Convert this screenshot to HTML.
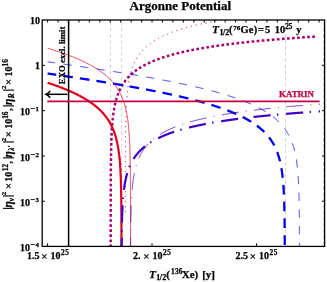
<!DOCTYPE html>
<html><head><meta charset="utf-8"><title>Argonne Potential</title>
<style>html,body{margin:0;padding:0;background:#fff}svg{display:block}</style></head>
<body>
<svg width="327" height="282" viewBox="0 0 327 282" style="will-change:transform">
<rect width="327" height="282" fill="#fff"/>
<defs><clipPath id="c"><rect x="42.2" y="20.0" width="282.4" height="226.4"/></clipPath></defs>
<g clip-path="url(#c)" fill="none" stroke-linejoin="round">
<line x1="110.5" y1="20.0" x2="110.5" y2="246.4" stroke="#b0b0b0" stroke-width="0.6" stroke-dasharray="3.2 2.9" stroke-dashoffset="-2"/>
<line x1="121.6" y1="20.0" x2="121.6" y2="246.4" stroke="#b0b0b0" stroke-width="0.6" stroke-dasharray="3.2 2.9" stroke-dashoffset="-2"/>
<line x1="285.5" y1="20.0" x2="285.5" y2="246.4" stroke="#b0b0b0" stroke-width="0.6" stroke-dasharray="3.2 2.9" stroke-dashoffset="-2"/>
<line x1="323.5" y1="20.0" x2="323.5" y2="246.4" stroke="#b0b0b0" stroke-width="0.6" stroke-dasharray="3.2 2.9" stroke-dashoffset="-2"/>
<defs><clipPath id="c2"><rect x="0" y="0" width="327" height="212.5"/></clipPath></defs>
<path d="M110.70 249.20 110.70 248.80 110.70 248.40 110.70 248.00 110.70 247.60 110.70 247.20 110.70 246.80 110.70 246.40 110.70 246.00 110.70 245.60 110.70 245.20 110.70 244.80 110.70 244.40 110.70 244.00 110.70 243.60 110.70 243.21 110.70 242.81 110.70 242.41 110.70 242.01 110.70 241.61 110.70 241.21 110.70 240.81 110.70 240.41 110.70 240.01 110.70 239.61 110.70 239.21 110.70 238.81 110.70 238.41 110.71 238.01 110.71 237.61 110.71 237.21 110.71 236.81 110.71 236.41 110.71 236.01 110.71 235.61 110.71 235.21 110.71 234.81 110.71 234.41 110.71 234.01 110.71 233.61 110.71 233.21 110.71 232.81 110.71 232.41 110.71 232.01 110.71 231.61 110.71 231.22 110.71 230.82 110.71 230.42 110.71 230.02 110.71 229.62 110.71 229.22 110.71 228.82 110.71 228.42 110.71 228.02 110.71 227.62 110.71 227.22 110.71 226.82 110.71 226.42 110.71 226.02 110.71 225.62 110.71 225.22 110.71 224.82 110.71 224.42 110.71 224.02 110.71 223.62 110.71 223.22 110.71 222.82 110.71 222.42 110.71 222.02 110.71 221.62 110.71 221.22 110.71 220.82 110.71 220.42 110.71 220.02 110.71 219.63 110.71 219.23 110.71 218.83 110.71 218.43 110.71 218.03 110.71 217.63 110.71 217.23 110.71 216.83 110.71 216.43 110.71 216.03 110.72 215.63 110.72 215.23 110.72 214.83 110.72 214.43 110.72 214.03 110.72 213.63 110.72 213.23 110.72 212.83 110.72 212.43 110.72 212.03 110.72 211.63 110.72 211.23 110.72 210.83 110.72 210.43 110.72 210.03 110.72 209.63 110.72 209.23 110.72 208.83 110.72 208.43 110.72 208.03 110.72 207.64 110.72 207.24 110.72 206.84 110.72 206.44 110.72 206.04 110.72 205.64 110.73 205.24 110.73 204.84 110.73 204.44 110.73 204.04 110.73 203.64 110.73 203.24 110.73 202.84 110.73 202.44 110.73 202.04 110.73 201.64 110.73 201.24 110.73 200.84 110.73 200.44 110.73 200.04 110.73 199.64 110.73 199.24 110.73 198.84 110.74 198.44 110.74 198.04 110.74 197.64 110.74 197.24 110.74 196.84 110.74 196.44 110.74 196.05 110.74 195.65 110.74 195.25 110.74 194.85 110.74 194.45 110.74 194.05 110.75 193.65 110.75 193.25 110.75 192.85 110.75 192.45 110.75 192.05 110.75 191.65 110.75 191.25 110.75 190.85 110.75 190.45 110.75 190.05 110.76 189.65 110.76 189.25 110.76 188.85 110.76 188.45 110.76 188.05 110.76 187.65 110.76 187.25 110.76 186.85 110.77 186.45 110.77 186.05 110.77 185.65 110.77 185.25 110.77 184.85 110.77 184.45 110.77 184.06 110.78 183.66 110.78 183.26 110.78 182.86 110.78 182.46 110.78 182.06 110.78 181.66 110.79 181.26 110.79 180.86 110.79 180.46 110.79 180.06 110.79 179.66 110.79 179.26 110.80 178.86 110.80 178.46 110.80 178.06 110.80 177.66 110.80 177.26 110.81 176.86 110.81 176.46 110.81 176.06 110.81 175.66 110.82 175.26 110.82 174.86 110.82 174.46 110.82 174.06 110.83 173.66 110.83 173.26 110.83 172.86 110.83 172.47 110.84 172.07 110.84 171.67 110.84 171.27 110.84 170.87 110.85 170.47 110.85 170.07 110.85 169.67 110.86 169.27 110.86 168.87 110.86 168.47 110.87 168.07 110.87 167.67 110.87 167.27 110.88 166.87 110.88 166.47 110.88 166.07 110.89 165.67 110.89 165.27 110.90 164.87 110.90 164.47 110.90 164.07 110.91 163.67 110.91 163.27 110.92 162.87 110.92 162.47 110.93 162.07 110.93 161.67 110.93 161.28 110.94 160.88 110.94 160.48 110.95 160.08 110.95 159.68 110.96 159.28 110.97 158.88 110.97 158.48 110.98 158.08 110.98 157.68 110.99 157.28 110.99 156.88 111.00 156.48 111.01 156.08 111.01 155.68 111.02 155.28 111.03 154.88 111.03 154.48 111.04 154.08 111.05 153.68 111.05 153.28 111.06 152.88 111.07 152.48 111.07 152.08 111.08 151.68 111.09 151.29 111.10 150.89 111.11 150.49 111.12 150.09 111.12 149.69 111.13 149.29 111.14 148.89 111.15 148.49 111.16 148.09 111.17 147.69 111.18 147.29 111.19 146.89 111.20 146.49 111.21 146.09 111.22 145.69 111.23 145.29 111.24 144.89 111.25 144.49 111.26 144.09 111.27 143.69 111.29 143.29 111.30 142.89 111.31 142.50 111.32 142.10 111.34 141.70 111.35 141.30 111.36 140.90 111.38 140.50 111.39 140.10 111.40 139.70 111.42 139.30 111.43 138.90 111.45 138.50 111.46 138.10 111.48 137.70 111.50 137.30 111.51 136.90 111.53 136.50 111.55 136.11 111.56 135.71 111.58 135.31 111.60 134.91 111.62 134.51 111.64 134.11 111.66 133.71 111.67 133.31 111.69 132.91 111.72 132.51 111.74 132.11 111.76 131.71 111.78 131.31 111.80 130.92 111.82 130.52 111.85 130.12 111.87 129.72 111.89 129.32 111.92 128.92 111.94 128.52 111.97 128.12 112.00 127.72 112.02 127.33 112.05 126.93 112.08 126.53 112.11 126.13 112.13 125.73 112.16 125.33 112.19 124.93 112.22 124.54 112.26 124.14 112.29 123.74 112.32 123.34 112.35 122.94 112.39 122.54 112.42 122.15 112.46 121.75 112.49 121.35 112.53 120.95 112.57 120.55 112.61 120.16 112.65 119.76 112.69 119.36 112.73 118.96 112.77 118.57 112.81 118.17 112.85 117.77 112.90 117.37 112.94 116.98 112.99 116.58 113.04 116.18 113.08 115.79 113.13 115.39 113.18 114.99 113.23 114.60 113.29 114.20 113.34 113.80 113.39 113.41 113.45 113.01 113.50 112.62 113.56 112.22 113.62 111.83 113.68 111.43 113.74 111.04 113.80 110.64 113.87 110.25 113.93 109.85 114.00 109.46 114.06 109.06 114.13 108.67 114.20 108.28 114.27 107.88 114.35 107.49 114.42 107.10 114.50 106.70 114.57 106.31 114.65 105.92 114.73 105.53 114.81 105.14 114.90 104.75 114.98 104.36 115.07 103.97 115.16 103.58 115.25 103.19 115.34 102.80 115.43 102.41 115.53 102.02 115.63 101.63 115.73 101.25 115.83 100.86 115.93 100.47 116.04 100.09 116.14 99.70 116.25 99.32 116.36 98.93 116.48 98.55 116.59 98.17 116.71 97.79 116.83 97.41 116.95 97.02 117.07 96.64 117.20 96.27 117.33 95.89 117.46 95.51 117.59 95.13 117.73 94.76 117.86 94.38 118.00 94.01 118.15 93.63 118.29 93.26 118.44 92.89 118.59 92.52 118.74 92.15 118.90 91.78 119.06 91.41 119.22 91.05 119.38 90.68 119.55 90.32 119.71 89.96 119.88 89.60 120.06 89.24 120.23 88.88 120.41 88.52 120.60 88.17 120.78 87.81 120.97 87.46 121.16 87.11 121.35 86.76 121.55 86.41 121.75 86.06 121.95 85.72 122.15 85.37 122.36 85.03 122.57 84.69 122.78 84.35 123.00 84.01 123.21 83.68 123.43 83.35 123.66 83.02 123.88 82.69 124.11 82.36 124.35 82.03 124.58 81.71 124.82 81.39 125.06 81.07 125.30 80.75 125.54 80.44 125.79 80.12 126.04 79.81 126.30 79.50 126.55 79.19 126.81 78.89 127.07 78.59 127.33 78.29 127.60 77.99 127.87 77.69 128.14 77.40 128.41 77.10 128.69 76.81 128.96 76.53 129.24 76.24 129.53 75.96 129.81 75.68 130.10 75.40 130.39 75.12 130.68 74.85 130.97 74.58 131.27 74.31 131.56 74.04 131.86 73.77 132.16 73.51 132.46 73.25 132.77 72.99 133.08 72.74 133.38 72.48 133.69 72.23 134.01 71.98 134.32 71.73 134.64 71.49 134.95 71.24 135.27 71.00 135.59 70.76 135.91 70.53 136.24 70.29 136.56 70.06 136.89 69.83 137.22 69.60 137.54 69.37 137.88 69.15 138.21 68.92 138.54 68.70 138.88 68.49 139.21 68.27 139.55 68.05 139.89 67.84 140.23 67.63 140.57 67.42 140.91 67.21 141.25 67.01 141.59 66.80 141.94 66.60 142.29 66.40 142.63 66.20 142.98 66.01 143.33 65.81 143.68 65.62 144.03 65.43 144.38 65.24 144.73 65.05 145.09 64.86 145.44 64.68 145.80 64.50 146.15 64.31 146.51 64.13 146.87 63.96 147.23 63.78 147.59 63.60 147.95 63.43 148.31 63.26 148.67 63.09 149.03 62.92 149.39 62.75 149.75 62.58 150.12 62.42 150.48 62.25 150.85 62.09 151.21 61.93 151.58 61.77 151.95 61.61 152.31 61.45 152.68 61.30 153.05 61.14 153.42 60.99 153.79 60.84 154.16 60.69 154.53 60.54 154.90 60.39 155.27 60.24 155.65 60.09 156.02 59.95 156.39 59.81 156.76 59.66 157.14 59.52 157.51 59.38 157.89 59.24 158.26 59.10 158.64 58.97 159.01 58.83 159.39 58.69 159.76 58.56 160.14 58.43 160.52 58.30 160.90 58.16 161.27 58.03 161.65 57.90 162.03 57.78 162.41 57.65 162.79 57.52 163.17 57.40 163.55 57.27 163.93 57.15 164.31 57.03 164.69 56.90 165.07 56.78 165.45 56.66 165.83 56.54 166.21 56.43 166.60 56.31 166.98 56.19 167.36 56.08 167.74 55.96 168.13 55.85 168.51 55.73 168.89 55.62 169.28 55.51 169.66 55.40 170.05 55.29 170.43 55.18 170.81 55.07 171.20 54.96 171.58 54.85 171.97 54.75 172.35 54.64 172.74 54.53 173.13 54.43 173.51 54.33 173.90 54.22 174.28 54.12 174.67 54.02 175.06 53.92 175.44 53.82 175.83 53.72 176.22 53.62 176.60 53.52 176.99 53.42 177.38 53.32 177.77 53.23 178.16 53.13 178.54 53.03 178.93 52.94 179.32 52.84 179.71 52.75 180.10 52.66 180.49 52.56 180.87 52.47 181.26 52.38 181.65 52.29 182.04 52.20 182.43 52.11 182.82 52.02 183.21 51.93 183.60 51.84 183.99 51.75 184.38 51.67 184.77 51.58 185.16 51.49 185.55 51.41 185.94 51.32 186.33 51.24 186.72 51.15 187.11 51.07 187.50 50.99 187.90 50.90 188.29 50.82 188.68 50.74 189.07 50.66 189.46 50.58 189.85 50.49 190.24 50.41 190.63 50.33 191.03 50.26 191.42 50.18 191.81 50.10 192.20 50.02 192.59 49.94 192.99 49.87 193.38 49.79 193.77 49.71 194.16 49.64 194.56 49.56 194.95 49.49 195.34 49.41 195.73 49.34 196.13 49.26 196.52 49.19 196.91 49.12 197.30 49.04 197.70 48.97 198.09 48.90 198.48 48.83 198.88 48.76 199.27 48.68 199.66 48.61 200.06 48.54 200.45 48.47 200.84 48.40 201.24 48.34 201.63 48.27 202.03 48.20 202.42 48.13 202.81 48.06 203.21 48.00 203.60 47.93 204.00 47.86 204.39 47.79 204.78 47.73 205.18 47.66 205.57 47.60 205.97 47.53 206.36 47.47 206.76 47.40 207.15 47.34 207.54 47.27 207.94 47.21 208.33 47.15 208.73 47.08 209.12 47.02 209.52 46.96 209.91 46.90 210.31 46.84 210.70 46.77 211.10 46.71 211.49 46.65 211.89 46.59 212.28 46.53 212.68 46.47 213.07 46.41 213.47 46.35 213.86 46.29 214.26 46.23 214.65 46.17 215.05 46.12 215.44 46.06 215.84 46.00 216.24 45.94 216.63 45.88 217.03 45.83 217.42 45.77 217.82 45.71 218.21 45.66 218.61 45.60 219.00 45.54 219.40 45.49 219.80 45.43 220.19 45.38 220.59 45.32 220.98 45.27 221.38 45.21 221.78 45.16 222.17 45.11 222.57 45.05 222.96 45.00 223.36 44.94 223.76 44.89 224.15 44.84 224.55 44.79 224.94 44.73 225.34 44.68 225.74 44.63 226.13 44.58 226.53 44.53 226.93 44.47 227.32 44.42 227.72 44.37 228.11 44.32 228.51 44.27 228.91 44.22 229.30 44.17 229.70 44.12 230.10 44.07 230.49 44.02 230.89 43.97 231.29 43.92 231.68 43.87 232.08 43.83 232.48 43.78 232.87 43.73 233.27 43.68 233.67 43.63 234.06 43.58 234.46 43.54 234.86 43.49 235.25 43.44 235.65 43.40 236.05 43.35 236.45 43.30 236.84 43.26 237.24 43.21 237.64 43.16 238.03 43.12 238.43 43.07 238.83 43.03 239.22 42.98 239.62 42.94 240.02 42.89 240.42 42.85 240.81 42.80 241.21 42.76 241.61 42.71 242.00 42.67 242.40 42.62 242.80 42.58 243.20 42.54 243.59 42.49 243.99 42.45 244.39 42.41 244.79 42.36 245.18 42.32 245.58 42.28 245.98 42.23 246.38 42.19 246.77 42.15 247.17 42.11 247.57 42.07 247.96 42.02 248.36 41.98 248.76 41.94 249.16 41.90 249.55 41.86 249.95 41.82 250.35 41.78 250.75 41.73 251.15 41.69 251.54 41.65 251.94 41.61 252.34 41.57 252.74 41.53 253.13 41.49 253.53 41.45 253.93 41.41 254.33 41.37 254.72 41.33 255.12 41.30 255.52 41.26 255.92 41.22 256.32 41.18 256.71 41.14 257.11 41.10 257.51 41.06 257.91 41.02 258.30 40.99 258.70 40.95 259.10 40.91 259.50 40.87 259.90 40.84 260.29 40.80 260.69 40.76 261.09 40.72 261.49 40.69 261.89 40.65 262.28 40.61 262.68 40.58 263.08 40.54 263.48 40.50 263.88 40.47 264.27 40.43 264.67 40.39 265.07 40.36 265.47 40.32 265.87 40.29 266.26 40.25 266.66 40.21 267.06 40.18 267.46 40.14 267.86 40.11 268.25 40.07 268.65 40.04 269.05 40.00 269.45 39.97 269.85 39.93 270.24 39.90 270.64 39.86 271.04 39.83 271.44 39.80 271.84 39.76 272.24 39.73 272.63 39.69 273.03 39.66 273.43 39.63 273.83 39.59 274.23 39.56 274.62 39.53 275.02 39.49 275.42 39.46 275.82 39.43 276.22 39.39 276.62 39.36 277.01 39.33 277.41 39.30 277.81 39.26 278.21 39.23 278.61 39.20 279.01 39.17 279.40 39.13 279.80 39.10 280.20 39.07 280.60 39.04 281.00 39.01 281.40 38.98 281.80 38.94 282.19 38.91 282.59 38.88 282.99 38.85 283.39 38.82 283.79 38.79 284.19 38.76 284.58 38.73 284.98 38.69 285.38 38.66 285.78 38.63 286.18 38.60 286.58 38.57 286.98 38.54 287.37 38.51 287.77 38.48 288.17 38.45 288.57 38.42 288.97 38.39 289.37 38.36 289.76 38.33 290.16 38.30 290.56 38.27 290.96 38.24 291.36 38.21 291.76 38.18 292.16 38.16 292.56 38.13 292.95 38.10 293.35 38.07 293.75 38.04 294.15 38.01 294.55 37.98 294.95 37.95 295.35 37.92 295.74 37.90 296.14 37.87 296.54 37.84 296.94 37.81 297.34 37.78 297.74 37.76 298.14 37.73 298.53 37.70 298.93 37.67 299.33 37.64 299.73 37.62 300.13 37.59 300.53 37.56 300.93 37.53 301.33 37.51 301.72 37.48 302.12 37.45 302.52 37.42 302.92 37.40 303.32 37.37 303.72 37.34 304.12 37.32 304.52 37.29 304.91 37.26 305.31 37.24 305.71 37.21 306.11 37.18 306.51 37.16 306.91 37.13 307.31 37.10 307.71 37.08 308.10 37.05 308.50 37.03 308.90 37.00 309.30 36.97 309.70 36.95 310.10 36.92 310.50 36.90 310.90 36.87 311.30 36.85 311.69 36.82 312.09 36.80 312.49 36.77 312.89 36.74 313.29 36.72 313.69 36.69 314.09 36.67 314.49 36.64 314.89 36.62 315.28 36.59 315.68 36.57 316.08 36.54 316.48 36.52" stroke="#AA006E" stroke-width="2.5" stroke-dasharray="2.7 2.37" stroke-dashoffset="3.05"/>
<g clip-path="url(#c2)"><path d="M125.40 249.20 125.40 248.80 125.40 248.40 125.40 248.00 125.40 247.60 125.40 247.20 125.40 246.80 125.40 246.40 125.40 246.00 125.40 245.60 125.40 245.20 125.40 244.80 125.40 244.40 125.40 244.00 125.40 243.60 125.40 243.20 125.40 242.80 125.40 242.40 125.40 242.00 125.40 241.60 125.40 241.20 125.40 240.80 125.40 240.40 125.40 240.00 125.40 239.60 125.40 239.20 125.40 238.80 125.40 238.40 125.40 238.00 125.40 237.60 125.40 237.20 125.40 236.80 125.40 236.40 125.40 236.00 125.40 235.60 125.40 235.20 125.40 234.80 125.40 234.40 125.40 234.00 125.40 233.60 125.40 233.20 125.40 232.80 125.40 232.40 125.40 232.00 125.40 231.60 125.40 231.20 125.40 230.80 125.40 230.40 125.40 230.00 125.40 229.60 125.40 229.20 125.40 228.80 125.40 228.40 125.40 228.00 125.40 227.60 125.40 227.20 125.40 226.80 125.40 226.40 125.40 226.00 125.40 225.60 125.40 225.20 125.40 224.80 125.40 224.40 125.40 224.00 125.40 223.60 125.40 223.20 125.40 222.80 125.40 222.40 125.40 222.00 125.40 221.60 125.40 221.20 125.40 220.80 125.40 220.40 125.40 220.00 125.40 219.60 125.40 219.20 125.40 218.80 125.40 218.40 125.40 218.00 125.40 217.60 125.40 217.20 125.40 216.80 125.40 216.40 125.40 216.00 125.40 215.60 125.40 215.20 125.40 214.80 125.40 214.40 125.40 214.00 125.40 213.60 125.40 213.20 125.40 212.80 125.40 212.40 125.40 212.00 125.40 211.60 125.41 211.20 125.41 210.80 125.41 210.40 125.41 210.00 125.41 209.60 125.41 209.20 125.41 208.80 125.41 208.40 125.41 208.00 125.41 207.60 125.41 207.20 125.41 206.80 125.41 206.40 125.41 206.00 125.41 205.60 125.41 205.20 125.41 204.80 125.41 204.40 125.41 204.00 125.41 203.60 125.41 203.20 125.41 202.80 125.41 202.40 125.41 202.00 125.41 201.60 125.41 201.20 125.41 200.80 125.41 200.40 125.41 200.00 125.41 199.60 125.41 199.20 125.41 198.80 125.41 198.40 125.41 198.00 125.41 197.60 125.41 197.20 125.41 196.80 125.41 196.40 125.41 196.00 125.41 195.60 125.41 195.20 125.41 194.80 125.41 194.40 125.41 194.00 125.41 193.60 125.41 193.20 125.41 192.80 125.41 192.40 125.41 192.00 125.41 191.60 125.41 191.20 125.41 190.80 125.41 190.40 125.41 190.00 125.41 189.60 125.41 189.20 125.41 188.80 125.42 188.40 125.42 188.00 125.42 187.60 125.42 187.20 125.42 186.80 125.42 186.40 125.42 186.00 125.42 185.60 125.42 185.20 125.42 184.80 125.42 184.40 125.42 184.00 125.42 183.60 125.42 183.20 125.42 182.80 125.42 182.40 125.42 182.00 125.42 181.60 125.42 181.20 125.42 180.80 125.42 180.40 125.42 180.00 125.42 179.60 125.42 179.20 125.42 178.80 125.42 178.40 125.43 178.00 125.43 177.60 125.43 177.20 125.43 176.80 125.43 176.40 125.43 176.00 125.43 175.60 125.43 175.20 125.43 174.80 125.43 174.40 125.43 174.00 125.43 173.60 125.43 173.20 125.43 172.80 125.43 172.40 125.43 172.00 125.44 171.60 125.44 171.20 125.44 170.80 125.44 170.40 125.44 170.00 125.44 169.60 125.44 169.20 125.44 168.80 125.44 168.40 125.44 168.00 125.44 167.60 125.44 167.20 125.44 166.80 125.45 166.40 125.45 166.00 125.45 165.60 125.45 165.20 125.45 164.80 125.45 164.40 125.45 164.00 125.45 163.60 125.45 163.20 125.45 162.80 125.46 162.40 125.46 162.00 125.46 161.60 125.46 161.20 125.46 160.80 125.46 160.40 125.46 160.00 125.46 159.60 125.47 159.20 125.47 158.80 125.47 158.40 125.47 158.00 125.47 157.60 125.47 157.20 125.47 156.80 125.48 156.40 125.48 156.00 125.48 155.60 125.48 155.20 125.48 154.80 125.48 154.40 125.49 154.00 125.49 153.60 125.49 153.20 125.49 152.80 125.49 152.40 125.49 152.00 125.50 151.60 125.50 151.20 125.50 150.80 125.50 150.40 125.50 150.00 125.51 149.60 125.51 149.20 125.51 148.80 125.51 148.40 125.52 148.00 125.52 147.60 125.52 147.20 125.52 146.80 125.53 146.40 125.53 146.00 125.53 145.60 125.53 145.20 125.54 144.80 125.54 144.40 125.54 144.00 125.54 143.60 125.55 143.20 125.55 142.80 125.55 142.40 125.56 142.00 125.56 141.60 125.56 141.20 125.57 140.80 125.57 140.40 125.57 140.00 125.58 139.60 125.58 139.20 125.59 138.80 125.59 138.41 125.59 138.01 125.60 137.61 125.60 137.21 125.60 136.81 125.61 136.41 125.61 136.01 125.62 135.61 125.62 135.21 125.63 134.81 125.63 134.41 125.64 134.01 125.64 133.61 125.65 133.21 125.65 132.81 125.66 132.41 125.66 132.01 125.67 131.61 125.67 131.21 125.68 130.81 125.68 130.41 125.69 130.01 125.70 129.61 125.70 129.21 125.71 128.81 125.71 128.41 125.72 128.01 125.73 127.61 125.73 127.21 125.74 126.81 125.75 126.41 125.75 126.01 125.76 125.61 125.77 125.21 125.78 124.81 125.78 124.41 125.79 124.01 125.80 123.61 125.81 123.21 125.82 122.81 125.83 122.41 125.83 122.01 125.84 121.61 125.85 121.21 125.86 120.81 125.87 120.41 125.88 120.01 125.89 119.61 125.90 119.21 125.91 118.81 125.92 118.41 125.93 118.01 125.94 117.61 125.95 117.21 125.97 116.81 125.98 116.41 125.99 116.01 126.00 115.61 126.01 115.21 126.03 114.81 126.04 114.41 126.05 114.01 126.07 113.61 126.08 113.21 126.09 112.81 126.11 112.41 126.12 112.01 126.14 111.61 126.15 111.21 126.17 110.81 126.18 110.41 126.20 110.01 126.22 109.61 126.23 109.21 126.25 108.81 126.27 108.42 126.29 108.02 126.30 107.62 126.32 107.22 126.34 106.82 126.36 106.42 126.38 106.02 126.40 105.62 126.42 105.22 126.44 104.82 126.46 104.42 126.49 104.02 126.51 103.62 126.53 103.22 126.55 102.82 126.58 102.42 126.60 102.02 126.63 101.63 126.65 101.23 126.68 100.83 126.70 100.43 126.73 100.03 126.76 99.63 126.79 99.23 126.82 98.83 126.84 98.43 126.87 98.03 126.90 97.64 126.94 97.24 126.97 96.84 127.00 96.44 127.03 96.04 127.07 95.64 127.10 95.24 127.13 94.84 127.17 94.45 127.21 94.05 127.24 93.65 127.28 93.25 127.32 92.85 127.36 92.46 127.40 92.06 127.44 91.66 127.48 91.26 127.53 90.86 127.57 90.47 127.61 90.07 127.66 89.67 127.71 89.27 127.75 88.88 127.80 88.48 127.85 88.08 127.90 87.69 127.95 87.29 128.00 86.89 128.06 86.50 128.11 86.10 128.17 85.70 128.22 85.31 128.28 84.91 128.34 84.52 128.40 84.12 128.46 83.73 128.52 83.33 128.59 82.94 128.65 82.54 128.72 82.15 128.79 81.75 128.86 81.36 128.93 80.97 129.00 80.57 129.07 80.18 129.15 79.79 129.22 79.39 129.30 79.00 129.38 78.61 129.46 78.22 129.54 77.83 129.63 77.43 129.71 77.04 129.80 76.65 129.89 76.26 129.98 75.87 130.07 75.48 130.17 75.10 130.26 74.71 130.36 74.32 130.46 73.93 130.56 73.55 130.67 73.16 130.77 72.77 130.88 72.39 130.99 72.00 131.10 71.62 131.22 71.24 131.33 70.85 131.45 70.47 131.57 70.09 131.69 69.71 131.82 69.33 131.95 68.95 132.07 68.57 132.21 68.19 132.34 67.82 132.48 67.44 132.62 67.07 132.76 66.69 132.90 66.32 133.05 65.95 133.19 65.57 133.35 65.20 133.50 64.84 133.66 64.47 133.81 64.10 133.98 63.73 134.14 63.37 134.31 63.01 134.48 62.64 134.65 62.28 134.82 61.92 135.00 61.56 135.18 61.21 135.36 60.85 135.55 60.50 135.74 60.14 135.93 59.79 136.12 59.44 136.32 59.09 136.52 58.75 136.72 58.40 136.93 58.06 137.13 57.72 137.35 57.38 137.56 57.04 137.78 56.70 137.99 56.37 138.22 56.04 138.44 55.70 138.67 55.38 138.90 55.05 139.13 54.72 139.37 54.40 139.60 54.08 139.85 53.76 140.09 53.44 140.34 53.13 140.58 52.81 140.84 52.50 141.09 52.19 141.35 51.89 141.61 51.58 141.87 51.28 142.13 50.98 142.40 50.68 142.67 50.39 142.94 50.09 143.21 49.80 143.49 49.51 143.77 49.22 144.05 48.94 144.33 48.66 144.62 48.38 144.90 48.10 145.19 47.82 145.48 47.55 145.78 47.28 146.07 47.01 146.37 46.74 146.67 46.47 146.97 46.21 147.28 45.95 147.58 45.69 147.89 45.44 148.20 45.18 148.51 44.93 148.82 44.68 149.14 44.43 149.45 44.19 149.77 43.95 150.09 43.70 150.41 43.47 150.73 43.23 151.06 42.99 151.38 42.76 151.71 42.53 152.04 42.30 152.37 42.08 152.70 41.85 153.03 41.63 153.36 41.41 153.70 41.19 154.03 40.97 154.37 40.76 154.71 40.55 155.05 40.33 155.39 40.13 155.73 39.92 156.08 39.71 156.42 39.51 156.77 39.31 157.11 39.11 157.46 38.91 157.81 38.71 158.16 38.52 158.51 38.32 158.86 38.13 159.21 37.94 159.56 37.76 159.92 37.57 160.27 37.38 160.63 37.20 160.98 37.02 161.34 36.84 161.70 36.66 162.06 36.48 162.42 36.31 162.78 36.13 163.14 35.96 163.50 35.79 163.86 35.62 164.23 35.45 164.59 35.29 164.95 35.12 165.32 34.96 165.68 34.79 166.05 34.63 166.42 34.47 166.78 34.31 167.15 34.16 167.52 34.00 167.89 33.85 168.26 33.69 168.63 33.54 169.00 33.39 169.37 33.24 169.74 33.09 170.11 32.94 170.48 32.80 170.86 32.65 171.23 32.51 171.60 32.36 171.98 32.22 172.35 32.08 172.73 31.94 173.10 31.80 173.48 31.67 173.85 31.53 174.23 31.39 174.61 31.26 174.98 31.13 175.36 30.99 175.74 30.86 176.12 30.73 176.49 30.60 176.87 30.47 177.25 30.35 177.63 30.22 178.01 30.09 178.39 29.97 178.77 29.85 179.15 29.72 179.53 29.60 179.92 29.48 180.30 29.36 180.68 29.24 181.06 29.12 181.44 29.00 181.82 28.89 182.21 28.77 182.59 28.65 182.97 28.54 183.36 28.43 183.74 28.31 184.12 28.20 184.51 28.09 184.89 27.98 185.28 27.87 185.66 27.76 186.05 27.65 186.43 27.54 186.82 27.44 187.20 27.33 187.59 27.22 187.98 27.12 188.36 27.01 188.75 26.91 189.13 26.81 189.52 26.71 189.91 26.60 190.29 26.50 190.68 26.40 191.07 26.30 191.46 26.20 191.84 26.11 192.23 26.01 192.62 25.91 193.01 25.81 193.40 25.72 193.79 25.62 194.17 25.53 194.56 25.43 194.95 25.34 195.34 25.25 195.73 25.15 196.12 25.06 196.51 24.97 196.90 24.88 197.29 24.79 197.68 24.70 198.07 24.61 198.46 24.52 198.85 24.43 199.24 24.35 199.63 24.26 200.02 24.17 200.41 24.08 200.80 24.00 201.19 23.91 201.58 23.83 201.97 23.74 202.36 23.66 202.75 23.58 203.15 23.49 203.54 23.41 203.93 23.33 204.32 23.25 204.71 23.17 205.10 23.09 205.50 23.01 205.89 22.93 206.28 22.85 206.67 22.77 207.06 22.69 207.46 22.61 207.85 22.54 208.24 22.46 208.63 22.38 209.03 22.31 209.42 22.23 209.81 22.15 210.20 22.08 210.60 22.00 210.99 21.93 211.38 21.86 211.78 21.78 212.17 21.71 212.56 21.64 212.96 21.56 213.35 21.49 213.74 21.42 214.14 21.35 214.53 21.28 214.92 21.21 215.32 21.14 215.71 21.07 216.11 21.00 216.50 20.93 216.89 20.86 217.29 20.79 217.68 20.72 218.08 20.65 218.47 20.59 218.87 20.52 219.26 20.45 219.65 20.39 220.05 20.32 220.44 20.25 220.84 20.19 221.23 20.12 221.63 20.06 222.02 19.99 222.42 19.93 222.81 19.87 223.21 19.80 223.60 19.74 224.00 19.68 224.39 19.61 224.79 19.55 225.18 19.49 225.58 19.43 225.97 19.36 226.37 19.30 226.76 19.24 227.16 19.18 227.55 19.12 227.95 19.06 228.34 19.00" stroke="#AA006E" stroke-width="1.0" stroke-dasharray="1.1 3.9" stroke-dashoffset="3.0"/></g>
<path d="M47.60 73.51 48.00 73.57 48.39 73.63 48.79 73.69 49.18 73.75 49.58 73.80 49.97 73.86 50.37 73.92 50.76 73.98 51.16 74.03 51.55 74.09 51.95 74.15 52.34 74.21 52.74 74.27 53.13 74.32 53.53 74.38 53.93 74.44 54.32 74.50 54.72 74.56 55.11 74.61 55.51 74.67 55.90 74.73 56.30 74.79 56.69 74.85 57.09 74.90 57.48 74.96 57.88 75.02 58.27 75.08 58.67 75.14 59.06 75.20 59.46 75.25 59.85 75.31 60.25 75.37 60.64 75.43 61.04 75.49 61.44 75.55 61.83 75.61 62.23 75.66 62.62 75.72 63.02 75.78 63.41 75.84 63.81 75.90 64.20 75.96 64.60 76.02 64.99 76.08 65.39 76.14 65.78 76.19 66.18 76.25 66.57 76.31 66.97 76.37 67.36 76.43 67.76 76.49 68.15 76.55 68.55 76.61 68.94 76.67 69.34 76.73 69.73 76.79 70.13 76.84 70.52 76.90 70.92 76.96 71.31 77.02 71.71 77.08 72.10 77.14 72.50 77.20 72.89 77.26 73.29 77.32 73.68 77.38 74.08 77.44 74.47 77.50 74.87 77.56 75.26 77.62 75.66 77.68 76.06 77.74 76.45 77.80 76.85 77.86 77.24 77.92 77.64 77.98 78.03 78.04 78.43 78.10 78.82 78.16 79.21 78.22 79.61 78.28 80.00 78.34 80.40 78.40 80.79 78.46 81.19 78.52 81.58 78.58 81.98 78.64 82.37 78.71 82.77 78.77 83.16 78.83 83.56 78.89 83.95 78.95 84.35 79.01 84.74 79.07 85.14 79.13 85.53 79.19 85.93 79.25 86.32 79.31 86.72 79.38 87.11 79.44 87.51 79.50 87.90 79.56 88.30 79.62 88.69 79.68 89.09 79.74 89.48 79.81 89.88 79.87 90.27 79.93 90.67 79.99 91.06 80.05 91.46 80.12 91.85 80.18 92.24 80.24 92.64 80.30 93.03 80.36 93.43 80.43 93.82 80.49 94.22 80.55 94.61 80.61 95.01 80.67 95.40 80.74 95.80 80.80 96.19 80.86 96.59 80.93 96.98 80.99 97.37 81.05 97.77 81.11 98.16 81.18 98.56 81.24 98.95 81.30 99.35 81.37 99.74 81.43 100.14 81.49 100.53 81.56 100.93 81.62 101.32 81.68 101.71 81.75 102.11 81.81 102.50 81.87 102.90 81.94 103.29 82.00 103.69 82.06 104.08 82.13 104.48 82.19 104.87 82.26 105.26 82.32 105.66 82.38 106.05 82.45 106.45 82.51 106.84 82.58 107.24 82.64 107.63 82.71 108.02 82.77 108.42 82.84 108.81 82.90 109.21 82.96 109.60 83.03 110.00 83.09 110.39 83.16 110.78 83.22 111.18 83.29 111.57 83.36 111.97 83.42 112.36 83.49 112.75 83.55 113.15 83.62 113.54 83.68 113.94 83.75 114.33 83.81 114.73 83.88 115.12 83.95 115.51 84.01 115.91 84.08 116.30 84.15 116.70 84.21 117.09 84.28 117.48 84.34 117.88 84.41 118.27 84.48 118.67 84.54 119.06 84.61 119.45 84.68 119.85 84.75 120.24 84.81 120.63 84.88 121.03 84.95 121.42 85.01 121.82 85.08 122.21 85.15 122.60 85.22 123.00 85.29 123.39 85.35 123.78 85.42 124.18 85.49 124.57 85.56 124.97 85.63 125.36 85.69 125.75 85.76 126.15 85.83 126.54 85.90 126.93 85.97 127.33 86.04 127.72 86.11 128.11 86.17 128.51 86.24 128.90 86.31 129.30 86.38 129.69 86.45 130.08 86.52 130.48 86.59 130.87 86.66 131.26 86.73 131.66 86.80 132.05 86.87 132.44 86.94 132.84 87.01 133.23 87.08 133.62 87.15 134.02 87.22 134.41 87.29 134.80 87.36 135.19 87.44 135.59 87.51 135.98 87.58 136.37 87.65 136.77 87.72 137.16 87.79 137.55 87.86 137.95 87.94 138.34 88.01 138.73 88.08 139.13 88.15 139.52 88.22 139.91 88.30 140.30 88.37 140.70 88.44 141.09 88.51 141.48 88.59 141.88 88.66 142.27 88.73 142.66 88.81 143.05 88.88 143.45 88.95 143.84 89.03 144.23 89.10 144.63 89.17 145.02 89.25 145.41 89.32 145.80 89.40 146.20 89.47 146.59 89.55 146.98 89.62 147.37 89.70 147.77 89.77 148.16 89.85 148.55 89.92 148.94 90.00 149.33 90.07 149.73 90.15 150.12 90.22 150.51 90.30 150.90 90.37 151.30 90.45 151.69 90.53 152.08 90.60 152.47 90.68 152.86 90.76 153.26 90.83 153.65 90.91 154.04 90.99 154.43 91.07 154.82 91.14 155.22 91.22 155.61 91.30 156.00 91.38 156.39 91.46 156.78 91.53 157.18 91.61 157.57 91.69 157.96 91.77 158.35 91.85 158.74 91.93 159.13 92.01 159.53 92.09 159.92 92.17 160.31 92.25 160.70 92.33 161.09 92.41 161.48 92.49 161.87 92.57 162.27 92.65 162.66 92.73 163.05 92.81 163.44 92.89 163.83 92.97 164.22 93.06 164.61 93.14 165.00 93.22 165.39 93.30 165.79 93.38 166.18 93.47 166.57 93.55 166.96 93.63 167.35 93.72 167.74 93.80 168.13 93.88 168.52 93.97 168.91 94.05 169.30 94.13 169.69 94.22 170.08 94.30 170.47 94.39 170.86 94.47 171.25 94.56 171.64 94.64 172.03 94.73 172.43 94.81 172.82 94.90 173.21 94.99 173.60 95.07 173.99 95.16 174.38 95.25 174.77 95.33 175.16 95.42 175.55 95.51 175.94 95.60 176.32 95.68 176.71 95.77 177.10 95.86 177.49 95.95 177.88 96.04 178.27 96.13 178.66 96.22 179.05 96.31 179.44 96.40 179.83 96.49 180.22 96.58 180.61 96.67 181.00 96.76 181.39 96.85 181.78 96.94 182.16 97.03 182.55 97.12 182.94 97.21 183.33 97.31 183.72 97.40 184.11 97.49 184.50 97.59 184.89 97.68 185.27 97.77 185.66 97.87 186.05 97.96 186.44 98.05 186.83 98.15 187.21 98.24 187.60 98.34 187.99 98.43 188.38 98.53 188.77 98.63 189.15 98.72 189.54 98.82 189.93 98.92 190.32 99.01 190.70 99.11 191.09 99.21 191.48 99.31 191.87 99.41 192.25 99.51 192.64 99.60 193.03 99.70 193.41 99.80 193.80 99.90 194.19 100.00 194.57 100.10 194.96 100.21 195.35 100.31 195.73 100.41 196.12 100.51 196.51 100.61 196.89 100.72 197.28 100.82 197.66 100.92 198.05 101.03 198.44 101.13 198.82 101.23 199.21 101.34 199.59 101.44 199.98 101.55 200.36 101.66 200.75 101.76 201.13 101.87 201.52 101.97 201.90 102.08 202.29 102.19 202.67 102.30 203.06 102.41 203.44 102.52 203.83 102.62 204.21 102.73 204.59 102.84 204.98 102.96 205.36 103.07 205.75 103.18 206.13 103.29 206.51 103.40 206.90 103.51 207.28 103.63 207.66 103.74 208.05 103.85 208.43 103.97 208.81 104.08 209.19 104.20 209.58 104.31 209.96 104.43 210.34 104.55 210.72 104.66 211.10 104.78 211.49 104.90 211.87 105.02 212.25 105.14 212.63 105.26 213.01 105.38 213.39 105.50 213.77 105.62 214.15 105.74 214.54 105.86 214.92 105.98 215.30 106.11 215.68 106.23 216.06 106.35 216.44 106.48 216.81 106.60 217.19 106.73 217.57 106.85 217.95 106.98 218.33 107.11 218.71 107.24 219.09 107.36 219.47 107.49 219.84 107.62 220.22 107.75 220.60 107.88 220.98 108.01 221.35 108.15 221.73 108.28 222.11 108.41 222.48 108.55 222.86 108.68 223.24 108.81 223.61 108.95 223.99 109.09 224.36 109.22 224.74 109.36 225.11 109.50 225.49 109.64 225.86 109.78 226.24 109.92 226.61 110.06 226.98 110.20 227.36 110.34 227.73 110.49 228.10 110.63 228.47 110.77 228.85 110.92 229.22 111.07 229.59 111.21 229.96 111.36 230.33 111.51 230.70 111.66 231.07 111.81 231.44 111.96 231.81 112.11 232.18 112.26 232.55 112.41 232.92 112.57 233.29 112.72 233.66 112.88 234.02 113.04 234.39 113.19 234.76 113.35 235.13 113.51 235.49 113.67 235.86 113.83 236.22 113.99 236.59 114.16 236.95 114.32 237.32 114.48 237.68 114.65 238.04 114.82 238.41 114.98 238.77 115.15 239.13 115.32 239.49 115.49 239.85 115.66 240.21 115.83 240.57 116.01 240.93 116.18 241.29 116.36 241.65 116.54 242.01 116.71 242.36 116.89 242.72 117.07 243.08 117.25 243.43 117.43 243.79 117.62 244.14 117.80 244.50 117.99 244.85 118.18 245.20 118.36 245.55 118.55 245.91 118.74 246.26 118.93 246.61 119.13 246.95 119.32 247.30 119.52 247.65 119.71 248.00 119.91 248.34 120.11 248.69 120.31 249.03 120.51 249.38 120.72 249.72 120.92 250.06 121.13 250.41 121.33 250.75 121.54 251.09 121.75 251.42 121.97 251.76 122.18 252.10 122.39 252.44 122.61 252.77 122.83 253.11 123.05 253.44 123.27 253.77 123.49 254.10 123.71 254.43 123.94 254.76 124.16 255.09 124.39 255.42 124.62 255.74 124.85 256.07 125.09 256.39 125.32 256.71 125.56 257.03 125.80 257.35 126.04 257.67 126.28 257.99 126.52 258.30 126.77 258.62 127.01 258.93 127.26 259.24 127.51 259.55 127.76 259.86 128.02 260.17 128.27 260.47 128.53 260.78 128.79 261.08 129.05 261.38 129.31 261.68 129.58 261.98 129.84 262.27 130.11 262.57 130.38 262.86 130.65 263.15 130.93 263.44 131.20 263.73 131.48 264.02 131.76 264.30 132.04 264.58 132.32 264.86 132.61 265.14 132.89 265.42 133.18 265.69 133.47 265.96 133.77 266.23 134.06 266.50 134.36 266.77 134.65 267.03 134.95 267.29 135.26 267.55 135.56 267.81 135.87 268.06 136.17 268.32 136.48 268.57 136.79 268.82 137.11 269.06 137.42 269.31 137.74 269.55 138.05 269.79 138.37 270.03 138.70 270.26 139.02 270.49 139.34 270.72 139.67 270.95 140.00 271.17 140.33 271.40 140.66 271.62 141.00 271.83 141.33 272.05 141.67 272.26 142.01 272.47 142.35 272.68 142.69 272.88 143.03 273.09 143.38 273.29 143.72 273.48 144.07 273.68 144.42 273.87 144.77 274.06 145.12 274.25 145.47 274.43 145.83 274.61 146.18 274.79 146.54 274.97 146.90 275.15 147.26 275.32 147.62 275.49 147.98 275.65 148.34 275.82 148.71 275.98 149.07 276.14 149.44 276.30 149.80 276.45 150.17 276.61 150.54 276.76 150.91 276.91 151.28 277.05 151.65 277.20 152.03 277.34 152.40 277.48 152.78 277.61 153.15 277.75 153.53 277.88 153.90 278.01 154.28 278.14 154.66 278.26 155.04 278.39 155.42 278.51 155.80 278.63 156.18 278.74 156.56 278.86 156.95 278.97 157.33 279.08 157.71 279.19 158.10 279.30 158.48 279.41 158.87 279.51 159.25 279.61 159.64 279.71 160.03 279.81 160.41 279.91 160.80 280.00 161.19 280.09 161.58 280.19 161.97 280.28 162.36 280.36 162.75 280.45 163.14 280.53 163.53 280.62 163.92 280.70 164.31 280.78 164.70 280.86 165.09 280.94 165.48 281.01 165.88 281.09 166.27 281.16 166.66 281.23 167.05 281.30 167.45 281.37 167.84 281.44 168.24 281.50 168.63 281.57 169.02 281.63 169.42 281.69 169.81 281.76 170.21 281.82 170.60 281.87 171.00 281.93 171.39 281.99 171.79 282.05 172.18 282.10 172.58 282.15 172.98 282.21 173.37 282.26 173.77 282.31 174.16 282.36 174.56 282.41 174.96 282.45 175.35 282.50 175.75 282.55 176.15 282.59 176.54 282.63 176.94 282.68 177.34 282.72 177.74 282.76 178.13 282.80 178.53 282.84 178.93 282.88 179.33 282.92 179.72 282.96 180.12 282.99 180.52 283.03 180.92 283.06 181.32 283.10 181.71 283.13 182.11 283.17 182.51 283.20 182.91 283.23 183.31 283.26 183.70 283.29 184.10 283.32 184.50 283.35 184.90 283.38 185.30 283.41 185.70 283.44 186.10 283.47 186.49 283.49 186.89 283.52 187.29 283.54 187.69 283.57 188.09 283.59 188.49 283.62 188.89 283.64 189.29 283.66 189.68 283.69 190.08 283.71 190.48 283.73 190.88 283.75 191.28 283.77 191.68 283.79 192.08 283.81 192.48 283.83 192.88 283.85 193.28 283.87 193.67 283.89 194.07 283.91 194.47 283.93 194.87 283.94 195.27 283.96 195.67 283.98 196.07 284.00 196.47 284.01 196.87 284.03 197.27 284.04 197.67 284.06 198.07 284.07 198.46 284.09 198.86 284.10 199.26 284.12 199.66 284.13 200.06 284.14 200.46 284.16 200.86 284.17 201.26 284.18 201.66 284.19 202.06 284.21 202.46 284.22 202.86 284.23 203.26 284.24 203.66 284.25 204.06 284.26 204.45 284.27 204.85 284.28 205.25 284.30 205.65 284.31 206.05 284.32 206.45 284.32 206.85 284.33 207.25 284.34 207.65 284.35 208.05 284.36 208.45 284.37 208.85 284.38 209.25 284.39 209.65 284.40 210.05 284.40 210.45 284.41 210.85 284.42 211.25 284.43 211.64 284.44 212.04 284.44 212.44 284.45 212.84 284.46 213.24 284.46 213.64 284.47 214.04 284.48 214.44 284.48 214.84 284.49 215.24 284.50 215.64 284.50 216.04 284.51 216.44 284.51 216.84 284.52 217.24 284.53 217.64 284.53 218.04 284.54 218.44 284.54 218.84 284.55 219.24 284.55 219.63 284.56 220.03 284.56 220.43 284.57 220.83 284.57 221.23 284.58 221.63 284.58 222.03 284.58 222.43 284.59 222.83 284.59 223.23 284.60 223.63 284.60 224.03 284.61 224.43 284.61 224.83 284.61 225.23 284.62 225.63 284.62 226.03 284.62 226.43 284.63 226.83 284.63 227.23 284.63 227.63 284.64 228.02 284.64 228.42 284.64 228.82 284.65 229.22 284.65 229.62 284.65 230.02 284.66 230.42 284.66 230.82 284.66 231.22 284.66 231.62 284.67 232.02 284.67 232.42 284.67 232.82 284.68 233.22 284.68 233.62 284.68 234.02 284.68 234.42 284.69 234.82 284.69 235.22 284.69 235.62 284.69 236.02 284.69 236.41 284.70 236.81 284.70 237.21 284.70 237.61 284.70 238.01 284.70 238.41 284.71 238.81 284.71 239.21 284.71 239.61 284.71 240.01 284.71 240.41 284.72 240.81 284.72 241.21 284.72 241.61 284.72 242.01 284.72 242.41 284.72 242.81 284.73 243.21 284.73 243.61 284.73 244.01 284.73 244.41 284.73 244.81 284.73 245.20 284.73 245.60 284.73 246.00 284.74 246.40 284.74 246.80 284.74 247.20 284.74 247.60 284.74 248.00 284.74 248.40 284.74 248.80 284.74 249.20" stroke="#0000F0" stroke-width="2.3" stroke-dasharray="9.7 7.09" stroke-dashoffset="1.0"/>
<path d="M47.60 61.81 48.00 61.87 48.39 61.93 48.79 61.98 49.18 62.04 49.58 62.09 49.98 62.15 50.37 62.21 50.77 62.26 51.16 62.32 51.56 62.37 51.96 62.43 52.35 62.49 52.75 62.54 53.14 62.60 53.54 62.65 53.94 62.71 54.33 62.77 54.73 62.82 55.12 62.88 55.52 62.93 55.92 62.99 56.31 63.05 56.71 63.10 57.10 63.16 57.50 63.22 57.90 63.27 58.29 63.33 58.69 63.38 59.08 63.44 59.48 63.50 59.88 63.55 60.27 63.61 60.67 63.67 61.06 63.72 61.46 63.78 61.86 63.84 62.25 63.89 62.65 63.95 63.04 64.01 63.44 64.06 63.83 64.12 64.23 64.18 64.63 64.23 65.02 64.29 65.42 64.35 65.81 64.40 66.21 64.46 66.61 64.52 67.00 64.57 67.40 64.63 67.79 64.69 68.19 64.74 68.59 64.80 68.98 64.86 69.38 64.92 69.77 64.97 70.17 65.03 70.56 65.09 70.96 65.14 71.36 65.20 71.75 65.26 72.15 65.32 72.54 65.37 72.94 65.43 73.34 65.49 73.73 65.55 74.13 65.60 74.52 65.66 74.92 65.72 75.31 65.78 75.71 65.83 76.11 65.89 76.50 65.95 76.90 66.01 77.29 66.06 77.69 66.12 78.08 66.18 78.48 66.24 78.88 66.30 79.27 66.35 79.67 66.41 80.06 66.47 80.46 66.53 80.85 66.59 81.25 66.64 81.65 66.70 82.04 66.76 82.44 66.82 82.83 66.88 83.23 66.93 83.62 66.99 84.02 67.05 84.42 67.11 84.81 67.17 85.21 67.23 85.60 67.29 86.00 67.34 86.39 67.40 86.79 67.46 87.19 67.52 87.58 67.58 87.98 67.64 88.37 67.70 88.77 67.75 89.16 67.81 89.56 67.87 89.95 67.93 90.35 67.99 90.75 68.05 91.14 68.11 91.54 68.17 91.93 68.23 92.33 68.29 92.72 68.35 93.12 68.41 93.51 68.46 93.91 68.52 94.31 68.58 94.70 68.64 95.10 68.70 95.49 68.76 95.89 68.82 96.28 68.88 96.68 68.94 97.07 69.00 97.47 69.06 97.86 69.12 98.26 69.18 98.66 69.24 99.05 69.30 99.45 69.36 99.84 69.42 100.24 69.48 100.63 69.54 101.03 69.60 101.42 69.66 101.82 69.72 102.21 69.78 102.61 69.85 103.00 69.91 103.40 69.97 103.79 70.03 104.19 70.09 104.59 70.15 104.98 70.21 105.38 70.27 105.77 70.33 106.17 70.39 106.56 70.45 106.96 70.52 107.35 70.58 107.75 70.64 108.14 70.70 108.54 70.76 108.93 70.82 109.33 70.88 109.72 70.95 110.12 71.01 110.51 71.07 110.91 71.13 111.30 71.19 111.70 71.26 112.09 71.32 112.49 71.38 112.88 71.44 113.28 71.50 113.67 71.57 114.07 71.63 114.46 71.69 114.86 71.75 115.25 71.82 115.65 71.88 116.04 71.94 116.44 72.00 116.83 72.07 117.23 72.13 117.62 72.19 118.02 72.26 118.41 72.32 118.81 72.38 119.20 72.45 119.60 72.51 119.99 72.57 120.39 72.64 120.78 72.70 121.18 72.76 121.57 72.83 121.97 72.89 122.36 72.95 122.76 73.02 123.15 73.08 123.55 73.15 123.94 73.21 124.34 73.27 124.73 73.34 125.13 73.40 125.52 73.47 125.92 73.53 126.31 73.60 126.71 73.66 127.10 73.73 127.49 73.79 127.89 73.86 128.28 73.92 128.68 73.99 129.07 74.05 129.47 74.12 129.86 74.18 130.26 74.25 130.65 74.31 131.05 74.38 131.44 74.44 131.83 74.51 132.23 74.58 132.62 74.64 133.02 74.71 133.41 74.77 133.81 74.84 134.20 74.91 134.60 74.97 134.99 75.04 135.38 75.11 135.78 75.17 136.17 75.24 136.57 75.31 136.96 75.37 137.36 75.44 137.75 75.51 138.14 75.57 138.54 75.64 138.93 75.71 139.33 75.78 139.72 75.84 140.12 75.91 140.51 75.98 140.90 76.05 141.30 76.12 141.69 76.18 142.09 76.25 142.48 76.32 142.87 76.39 143.27 76.46 143.66 76.53 144.06 76.60 144.45 76.66 144.84 76.73 145.24 76.80 145.63 76.87 146.03 76.94 146.42 77.01 146.81 77.08 147.21 77.15 147.60 77.22 148.00 77.29 148.39 77.36 148.78 77.43 149.18 77.50 149.57 77.57 149.96 77.64 150.36 77.71 150.75 77.78 151.15 77.85 151.54 77.92 151.93 77.99 152.33 78.06 152.72 78.14 153.11 78.21 153.51 78.28 153.90 78.35 154.29 78.42 154.69 78.49 155.08 78.56 155.47 78.64 155.87 78.71 156.26 78.78 156.65 78.85 157.05 78.93 157.44 79.00 157.83 79.07 158.23 79.15 158.62 79.22 159.01 79.29 159.41 79.36 159.80 79.44 160.19 79.51 160.59 79.59 160.98 79.66 161.37 79.73 161.76 79.81 162.16 79.88 162.55 79.96 162.94 80.03 163.34 80.11 163.73 80.18 164.12 80.26 164.52 80.33 164.91 80.41 165.30 80.48 165.69 80.56 166.09 80.63 166.48 80.71 166.87 80.78 167.26 80.86 167.66 80.94 168.05 81.01 168.44 81.09 168.83 81.17 169.23 81.24 169.62 81.32 170.01 81.40 170.40 81.48 170.80 81.55 171.19 81.63 171.58 81.71 171.97 81.79 172.37 81.87 172.76 81.94 173.15 82.02 173.54 82.10 173.93 82.18 174.33 82.26 174.72 82.34 175.11 82.42 175.50 82.50 175.89 82.58 176.29 82.66 176.68 82.74 177.07 82.82 177.46 82.90 177.85 82.98 178.24 83.06 178.64 83.14 179.03 83.22 179.42 83.30 179.81 83.38 180.20 83.47 180.59 83.55 180.99 83.63 181.38 83.71 181.77 83.80 182.16 83.88 182.55 83.96 182.94 84.04 183.33 84.13 183.72 84.21 184.12 84.29 184.51 84.38 184.90 84.46 185.29 84.55 185.68 84.63 186.07 84.72 186.46 84.80 186.85 84.89 187.24 84.97 187.63 85.06 188.02 85.14 188.41 85.23 188.80 85.32 189.20 85.40 189.59 85.49 189.98 85.58 190.37 85.66 190.76 85.75 191.15 85.84 191.54 85.93 191.93 86.01 192.32 86.10 192.71 86.19 193.10 86.28 193.49 86.37 193.88 86.46 194.27 86.55 194.66 86.64 195.05 86.73 195.44 86.82 195.83 86.91 196.22 87.00 196.60 87.09 196.99 87.18 197.38 87.27 197.77 87.36 198.16 87.45 198.55 87.55 198.94 87.64 199.33 87.73 199.72 87.82 200.11 87.92 200.50 88.01 200.88 88.11 201.27 88.20 201.66 88.29 202.05 88.39 202.44 88.48 202.83 88.58 203.22 88.67 203.60 88.77 203.99 88.87 204.38 88.96 204.77 89.06 205.16 89.16 205.54 89.25 205.93 89.35 206.32 89.45 206.71 89.55 207.10 89.65 207.48 89.74 207.87 89.84 208.26 89.94 208.65 90.04 209.03 90.14 209.42 90.24 209.81 90.34 210.19 90.45 210.58 90.55 210.97 90.65 211.35 90.75 211.74 90.85 212.13 90.96 212.51 91.06 212.90 91.16 213.29 91.27 213.67 91.37 214.06 91.47 214.44 91.58 214.83 91.69 215.22 91.79 215.60 91.90 215.99 92.00 216.37 92.11 216.76 92.22 217.14 92.32 217.53 92.43 217.91 92.54 218.30 92.65 218.68 92.76 219.07 92.87 219.45 92.98 219.84 93.09 220.22 93.20 220.61 93.31 220.99 93.42 221.37 93.53 221.76 93.65 222.14 93.76 222.52 93.87 222.91 93.99 223.29 94.10 223.67 94.21 224.06 94.33 224.44 94.45 224.82 94.56 225.21 94.68 225.59 94.79 225.97 94.91 226.35 95.03 226.73 95.15 227.12 95.27 227.50 95.39 227.88 95.51 228.26 95.63 228.64 95.75 229.02 95.87 229.40 95.99 229.79 96.11 230.17 96.24 230.55 96.36 230.93 96.48 231.31 96.61 231.69 96.73 232.07 96.86 232.45 96.98 232.83 97.11 233.20 97.24 233.58 97.37 233.96 97.49 234.34 97.62 234.72 97.75 235.10 97.88 235.48 98.01 235.85 98.14 236.23 98.28 236.61 98.41 236.99 98.54 237.36 98.68 237.74 98.81 238.12 98.94 238.49 99.08 238.87 99.22 239.24 99.35 239.62 99.49 239.99 99.63 240.37 99.77 240.74 99.91 241.12 100.05 241.49 100.19 241.87 100.33 242.24 100.47 242.61 100.62 242.99 100.76 243.36 100.91 243.73 101.05 244.10 101.20 244.48 101.34 244.85 101.49 245.22 101.64 245.59 101.79 245.96 101.94 246.33 102.09 246.70 102.24 247.07 102.39 247.44 102.55 247.81 102.70 248.18 102.86 248.55 103.01 248.92 103.17 249.28 103.33 249.65 103.49 250.02 103.65 250.38 103.81 250.75 103.97 251.11 104.13 251.48 104.29 251.84 104.46 252.21 104.62 252.57 104.79 252.94 104.95 253.30 105.12 253.66 105.29 254.02 105.46 254.39 105.63 254.75 105.80 255.11 105.97 255.47 106.15 255.83 106.32 256.19 106.50 256.55 106.68 256.90 106.86 257.26 107.03 257.62 107.21 257.97 107.40 258.33 107.58 258.69 107.76 259.04 107.95 259.39 108.13 259.75 108.32 260.10 108.51 260.45 108.70 260.80 108.89 261.15 109.08 261.50 109.28 261.85 109.47 262.20 109.67 262.55 109.86 262.90 110.06 263.24 110.26 263.59 110.46 263.93 110.67 264.28 110.87 264.62 111.08 264.96 111.28 265.30 111.49 265.65 111.70 265.98 111.91 266.32 112.12 266.66 112.34 267.00 112.55 267.33 112.77 267.67 112.99 268.00 113.21 268.34 113.43 268.67 113.65 269.00 113.88 269.33 114.10 269.66 114.33 269.99 114.56 270.31 114.79 270.64 115.03 270.96 115.26 271.29 115.50 271.61 115.73 271.93 115.97 272.25 116.21 272.56 116.46 272.88 116.70 273.20 116.95 273.51 117.19 273.82 117.44 274.13 117.69 274.44 117.95 274.75 118.20 275.06 118.46 275.36 118.72 275.67 118.98 275.97 119.24 276.27 119.50 276.57 119.77 276.87 120.04 277.16 120.31 277.46 120.58 277.75 120.85 278.04 121.13 278.33 121.40 278.61 121.68 278.90 121.96 279.18 122.24 279.46 122.53 279.74 122.81 280.02 123.10 280.30 123.39 280.57 123.68 280.84 123.98 281.11 124.27 281.38 124.57 281.64 124.87 281.90 125.17 282.17 125.48 282.42 125.78 282.68 126.09 282.93 126.40 283.19 126.71 283.44 127.02 283.68 127.33 283.93 127.65 284.17 127.97 284.41 128.29 284.65 128.61 284.89 128.93 285.12 129.26 285.35 129.58 285.58 129.91 285.80 130.24 286.03 130.57 286.25 130.91 286.47 131.24 286.68 131.58 286.90 131.92 287.11 132.26 287.32 132.60 287.52 132.94 287.73 133.29 287.93 133.63 288.12 133.98 288.32 134.33 288.51 134.68 288.70 135.03 288.89 135.38 289.08 135.74 289.26 136.09 289.44 136.45 289.62 136.81 289.80 137.17 289.97 137.53 290.14 137.89 290.31 138.25 290.47 138.61 290.64 138.98 290.80 139.35 290.96 139.71 291.11 140.08 291.27 140.45 291.42 140.82 291.57 141.19 291.71 141.56 291.86 141.94 292.00 142.31 292.14 142.69 292.28 143.06 292.41 143.44 292.54 143.81 292.68 144.19 292.80 144.57 292.93 144.95 293.05 145.33 293.18 145.71 293.30 146.09 293.41 146.48 293.53 146.86 293.64 147.24 293.76 147.63 293.87 148.01 293.97 148.40 294.08 148.78 294.19 149.17 294.29 149.55 294.39 149.94 294.49 150.33 294.58 150.72 294.68 151.10 294.77 151.49 294.86 151.88 294.96 152.27 295.04 152.66 295.13 153.05 295.22 153.44 295.30 153.83 295.38 154.23 295.46 154.62 295.54 155.01 295.62 155.40 295.69 155.79 295.77 156.19 295.84 156.58 295.91 156.97 295.99 157.37 296.05 157.76 296.12 158.16 296.19 158.55 296.25 158.95 296.32 159.34 296.38 159.73 296.44 160.13 296.50 160.53 296.56 160.92 296.62 161.32 296.68 161.71 296.73 162.11 296.79 162.50 296.84 162.90 296.90 163.30 296.95 163.69 297.00 164.09 297.05 164.49 297.10 164.88 297.14 165.28 297.19 165.68 297.24 166.08 297.28 166.47 297.33 166.87 297.37 167.27 297.41 167.67 297.45 168.06 297.49 168.46 297.53 168.86 297.57 169.26 297.61 169.66 297.65 170.05 297.69 170.45 297.72 170.85 297.76 171.25 297.79 171.65 297.83 172.05 297.86 172.44 297.89 172.84 297.93 173.24 297.96 173.64 297.99 174.04 298.02 174.44 298.05 174.84 298.08 175.24 298.11 175.63 298.13 176.03 298.16 176.43 298.19 176.83 298.21 177.23 298.24 177.63 298.27 178.03 298.29 178.43 298.31 178.83 298.34 179.23 298.36 179.63 298.38 180.03 298.41 180.42 298.43 180.82 298.45 181.22 298.47 181.62 298.49 182.02 298.51 182.42 298.53 182.82 298.55 183.22 298.57 183.62 298.59 184.02 298.61 184.42 298.62 184.82 298.64 185.22 298.66 185.62 298.68 186.02 298.69 186.42 298.71 186.82 298.73 187.22 298.74 187.62 298.76 188.02 298.77 188.41 298.79 188.81 298.80 189.21 298.81 189.61 298.83 190.01 298.84 190.41 298.85 190.81 298.87 191.21 298.88 191.61 298.89 192.01 298.90 192.41 298.92 192.81 298.93 193.21 298.94 193.61 298.95 194.01 298.96 194.41 298.97 194.81 298.98 195.21 298.99 195.61 299.00 196.01 299.01 196.41 299.02 196.81 299.03 197.21 299.04 197.61 299.05 198.01 299.06 198.41 299.07 198.81 299.08 199.21 299.09 199.61 299.10 200.01 299.10 200.41 299.11 200.81 299.12 201.21 299.13 201.61 299.13 202.01 299.14 202.41 299.15 202.81 299.16 203.21 299.16 203.61 299.17 204.01 299.18 204.41 299.18 204.81 299.19 205.21 299.20 205.61 299.20 206.01 299.21 206.41 299.21 206.81 299.22 207.21 299.22 207.61 299.23 208.01 299.24 208.41 299.24 208.81 299.25 209.21 299.25 209.61 299.26 210.01 299.26 210.41 299.27 210.81 299.27 211.21 299.28 211.61 299.28 212.01 299.28 212.41 299.29 212.81 299.29 213.21 299.30 213.61 299.30 214.01 299.31 214.41 299.31 214.81 299.31 215.21 299.32 215.60 299.32 216.00 299.32 216.40 299.33 216.80 299.33 217.20 299.33 217.60 299.34 218.00 299.34 218.40 299.34 218.80 299.35 219.20 299.35 219.60 299.35 220.00 299.36 220.40 299.36 220.80 299.36 221.20 299.36 221.60 299.37 222.00 299.37 222.40 299.37 222.80 299.38 223.20 299.38 223.60 299.38 224.00 299.38 224.40 299.39 224.80 299.39 225.20 299.39 225.60 299.39 226.00 299.39 226.40 299.40 226.80 299.40 227.20 299.40 227.60 299.40 228.00 299.40 228.40 299.41 228.80 299.41 229.20 299.41 229.60 299.41 230.00 299.41 230.40 299.42 230.80 299.42 231.20 299.42 231.60 299.42 232.00 299.42 232.40 299.42 232.80 299.43 233.20 299.43 233.60 299.43 234.00 299.43 234.40 299.43 234.80 299.43 235.20 299.43 235.60 299.43 236.00 299.44 236.40 299.44 236.80 299.44 237.20 299.44 237.60 299.44 238.00 299.44 238.40 299.44 238.80 299.44 239.20 299.45 239.60 299.45 240.00 299.45 240.40 299.45 240.80 299.45 241.20 299.45 241.60 299.45 242.00 299.45 242.40 299.45 242.80 299.45 243.20 299.46 243.60 299.46 244.00 299.46 244.40 299.46 244.80 299.46 245.20 299.46 245.60 299.46 246.00 299.46 246.40 299.46 246.80 299.46 247.20 299.46 247.60 299.46 248.00 299.47 248.40 299.47 248.80 299.47 249.20" stroke="#0000F0" stroke-width="0.8" stroke-dasharray="8.2 8.52" stroke-dashoffset="0.6"/>
<path d="M47.60 82.73 47.98 82.86 48.36 82.98 48.74 83.11 49.12 83.24 49.50 83.36 49.87 83.49 50.25 83.62 50.63 83.75 51.01 83.88 51.39 84.00 51.77 84.13 52.14 84.26 52.52 84.40 52.90 84.53 53.28 84.66 53.65 84.79 54.03 84.92 54.41 85.06 54.78 85.19 55.16 85.33 55.54 85.46 55.91 85.60 56.29 85.73 56.66 85.87 57.04 86.01 57.41 86.14 57.79 86.28 58.16 86.42 58.54 86.56 58.91 86.70 59.29 86.84 59.66 86.98 60.03 87.12 60.41 87.27 60.78 87.41 61.15 87.55 61.52 87.70 61.90 87.84 62.27 87.99 62.64 88.13 63.01 88.28 63.38 88.43 63.75 88.58 64.13 88.73 64.50 88.87 64.87 89.03 65.24 89.18 65.61 89.33 65.98 89.48 66.34 89.63 66.71 89.79 67.08 89.94 67.45 90.10 67.82 90.25 68.19 90.41 68.55 90.57 68.92 90.73 69.29 90.89 69.65 91.05 70.02 91.21 70.38 91.37 70.75 91.53 71.11 91.69 71.48 91.86 71.84 92.02 72.21 92.19 72.57 92.35 72.93 92.52 73.29 92.69 73.66 92.86 74.02 93.03 74.38 93.20 74.74 93.37 75.10 93.55 75.46 93.72 75.82 93.89 76.18 94.07 76.53 94.25 76.89 94.43 77.25 94.60 77.61 94.78 77.96 94.96 78.32 95.15 78.67 95.33 79.03 95.51 79.38 95.70 79.74 95.88 80.09 96.07 80.44 96.26 80.79 96.45 81.15 96.64 81.50 96.83 81.85 97.02 82.20 97.22 82.54 97.41 82.89 97.61 83.24 97.81 83.59 98.01 83.93 98.21 84.28 98.41 84.62 98.61 84.97 98.81 85.31 99.02 85.65 99.22 85.99 99.43 86.33 99.64 86.67 99.85 87.01 100.06 87.35 100.27 87.69 100.49 88.02 100.70 88.36 100.92 88.69 101.14 89.03 101.36 89.36 101.58 89.69 101.80 90.02 102.03 90.35 102.25 90.68 102.48 91.01 102.71 91.34 102.94 91.66 103.17 91.99 103.40 92.31 103.64 92.63 103.87 92.95 104.11 93.27 104.35 93.59 104.59 93.91 104.83 94.23 105.08 94.54 105.32 94.86 105.57 95.17 105.82 95.48 106.07 95.79 106.32 96.10 106.58 96.40 106.83 96.71 107.09 97.01 107.35 97.32 107.61 97.62 107.87 97.92 108.14 98.21 108.41 98.51 108.67 98.81 108.94 99.10 109.21 99.39 109.49 99.68 109.76 99.97 110.04 100.25 110.32 100.54 110.60 100.82 110.88 101.10 111.17 101.38 111.45 101.66 111.74 101.93 112.03 102.21 112.32 102.48 112.61 102.75 112.91 103.02 113.21 103.28 113.51 103.54 113.81 103.81 114.11 104.06 114.41 104.32 114.72 104.58 115.03 104.83 115.34 105.08 115.65 105.33 115.96 105.57 116.27 105.82 116.59 106.06 116.91 106.30 117.23 106.54 117.55 106.77 117.87 107.00 118.20 107.23 118.53 107.46 118.85 107.69 119.19 107.91 119.52 108.13 119.85 108.35 120.18 108.56 120.52 108.78 120.86 108.99 121.20 109.19 121.54 109.40 121.88 109.60 122.23 109.80 122.57 110.00 122.92 110.20 123.27 110.39 123.62 110.58 123.97 110.77 124.32 110.96 124.67 111.14 125.03 111.32 125.39 111.50 125.74 111.68 126.10 111.85 126.46 112.02 126.82 112.19 127.18 112.36 127.55 112.52 127.91 112.68 128.28 112.84 128.64 113.00 129.01 113.15 129.38 113.30 129.75 113.45 130.12 113.60 130.49 113.75 130.86 113.89 131.24 114.03 131.61 114.17 131.99 114.30 132.36 114.44 132.74 114.57 133.12 114.70 133.49 114.83 133.87 114.95 134.25 115.07 134.63 115.20 135.01 115.31 135.39 115.43 135.78 115.55 136.16 115.66 136.54 115.77 136.93 115.88 137.31 115.99 137.70 116.09 138.08 116.20 138.47 116.30 138.85 116.40 139.24 116.50 139.63 116.59 140.02 116.69 140.40 116.78 140.79 116.87 141.18 116.96 141.57 117.05 141.96 117.14 142.35 117.22 142.74 117.30 143.13 117.39 143.52 117.47 143.91 117.54 144.31 117.62 144.70 117.70 145.09 117.77 145.48 117.84 145.88 117.92 146.27 117.99 146.66 118.06 147.06 118.12 147.45 118.19 147.84 118.25 148.24 118.32 148.63 118.38 149.03 118.44 149.42 118.50 149.82 118.56 150.21 118.62 150.61 118.68 151.00 118.73 151.40 118.79 151.79 118.84 152.19 118.89 152.59 118.95 152.98 119.00 153.38 119.05 153.78 119.09 154.17 119.14 154.57 119.19 154.97 119.23 155.36 119.28 155.76 119.32 156.16 119.37 156.55 119.41 156.95 119.45 157.35 119.49 157.75 119.53 158.14 119.57 158.54 119.61 158.94 119.65 159.34 119.68 159.73 119.72 160.13 119.76 160.53 119.79 160.93 119.82 161.33 119.86 161.73 119.89 162.12 119.92 162.52 119.95 162.92 119.99 163.32 120.02 163.72 120.05 164.12 120.07 164.51 120.10 164.91 120.13 165.31 120.16 165.71 120.18 166.11 120.21 166.51 120.24 166.91 120.26 167.30 120.29 167.70 120.31 168.10 120.33 168.50 120.36 168.90 120.38 169.30 120.40 169.70 120.43 170.10 120.45 170.50 120.47 170.90 120.49 171.29 120.51 171.69 120.53 172.09 120.55 172.49 120.57 172.89 120.59 173.29 120.60 173.69 120.62 174.09 120.64 174.49 120.66 174.89 120.67 175.29 120.69 175.68 120.71 176.08 120.72 176.48 120.74 176.88 120.75 177.28 120.77 177.68 120.78 178.08 120.80 178.48 120.81 178.88 120.83 179.28 120.84 179.68 120.85 180.08 120.87 180.48 120.88 180.88 120.89 181.28 120.90 181.67 120.91 182.07 120.93 182.47 120.94 182.87 120.95 183.27 120.96 183.67 120.97 184.07 120.98 184.47 120.99 184.87 121.00 185.27 121.01 185.67 121.02 186.07 121.03 186.47 121.04 186.87 121.05 187.27 121.06 187.67 121.07 188.07 121.08 188.47 121.09 188.87 121.09 189.26 121.10 189.66 121.11 190.06 121.12 190.46 121.13 190.86 121.13 191.26 121.14 191.66 121.15 192.06 121.15 192.46 121.16 192.86 121.17 193.26 121.17 193.66 121.18 194.06 121.19 194.46 121.19 194.86 121.20 195.26 121.21 195.66 121.21 196.06 121.22 196.46 121.22 196.86 121.23 197.26 121.23 197.65 121.24 198.05 121.25 198.45 121.25 198.85 121.26 199.25 121.26 199.65 121.26 200.05 121.27 200.45 121.27 200.85 121.28 201.25 121.28 201.65 121.29 202.05 121.29 202.45 121.30 202.85 121.30 203.25 121.30 203.65 121.31 204.05 121.31 204.45 121.32 204.85 121.32 205.25 121.32 205.65 121.33 206.05 121.33 206.44 121.33 206.84 121.34 207.24 121.34 207.64 121.34 208.04 121.35 208.44 121.35 208.84 121.35 209.24 121.36 209.64 121.36 210.04 121.36 210.44 121.36 210.84 121.37 211.24 121.37 211.64 121.37 212.04 121.37 212.44 121.38 212.84 121.38 213.24 121.38 213.64 121.38 214.04 121.39 214.44 121.39 214.84 121.39 215.24 121.39 215.64 121.40 216.03 121.40 216.43 121.40 216.83 121.40 217.23 121.40 217.63 121.41 218.03 121.41 218.43 121.41 218.83 121.41 219.23 121.41 219.63 121.41 220.03 121.42 220.43 121.42 220.83 121.42 221.23 121.42 221.63 121.42 222.03 121.42 222.43 121.43 222.83 121.43 223.23 121.43 223.63 121.43 224.03 121.43 224.43 121.43 224.83 121.43 225.23 121.44 225.62 121.44 226.02 121.44 226.42 121.44 226.82 121.44 227.22 121.44 227.62 121.44 228.02 121.44 228.42 121.45 228.82 121.45 229.22 121.45 229.62 121.45 230.02 121.45 230.42 121.45 230.82 121.45 231.22 121.45 231.62 121.45 232.02 121.45 232.42 121.46 232.82 121.46 233.22 121.46 233.62 121.46 234.02 121.46 234.42 121.46 234.81 121.46 235.21 121.46 235.61 121.46 236.01 121.46 236.41 121.46 236.81 121.46 237.21 121.47 237.61 121.47 238.01 121.47 238.41 121.47 238.81 121.47 239.21 121.47 239.61 121.47 240.01 121.47 240.41 121.47 240.81 121.47 241.21 121.47 241.61 121.47 242.01 121.47 242.41 121.47 242.81 121.47 243.21 121.47 243.61 121.47 244.01 121.48 244.40 121.48 244.80 121.48 245.20 121.48 245.60 121.48 246.00 121.48 246.40 121.48 246.80 121.48 247.20 121.48 247.60 121.48 248.00 121.48 248.40 121.48 248.80 121.48 249.20" stroke="#E00020" stroke-width="2.2"/>
<path d="M47.60 48.23 47.98 48.35 48.37 48.46 48.75 48.58 49.13 48.69 49.51 48.81 49.89 48.93 50.28 49.04 50.66 49.16 51.04 49.28 51.42 49.40 51.80 49.52 52.18 49.64 52.57 49.75 52.95 49.87 53.33 50.00 53.71 50.12 54.09 50.24 54.47 50.36 54.85 50.48 55.23 50.60 55.61 50.73 55.99 50.85 56.37 50.97 56.75 51.10 57.13 51.22 57.51 51.35 57.89 51.47 58.27 51.60 58.65 51.73 59.03 51.85 59.41 51.98 59.78 52.11 60.16 52.24 60.54 52.37 60.92 52.50 61.30 52.63 61.67 52.76 62.05 52.89 62.43 53.02 62.81 53.15 63.18 53.28 63.56 53.42 63.94 53.55 64.31 53.68 64.69 53.82 65.07 53.95 65.44 54.09 65.82 54.22 66.19 54.36 66.57 54.50 66.94 54.64 67.32 54.78 67.69 54.91 68.07 55.05 68.44 55.19 68.81 55.34 69.19 55.48 69.56 55.62 69.93 55.76 70.31 55.91 70.68 56.05 71.05 56.19 71.43 56.34 71.80 56.49 72.17 56.63 72.54 56.78 72.91 56.93 73.28 57.08 73.65 57.23 74.02 57.38 74.39 57.53 74.76 57.68 75.13 57.83 75.50 57.98 75.87 58.14 76.24 58.29 76.61 58.45 76.98 58.60 77.34 58.76 77.71 58.92 78.08 59.07 78.44 59.23 78.81 59.39 79.18 59.55 79.54 59.72 79.91 59.88 80.27 60.04 80.64 60.21 81.00 60.37 81.36 60.54 81.73 60.70 82.09 60.87 82.45 61.04 82.81 61.21 83.18 61.38 83.54 61.55 83.90 61.72 84.26 61.89 84.62 62.07 84.98 62.24 85.33 62.42 85.69 62.60 86.05 62.77 86.41 62.95 86.77 63.13 87.12 63.31 87.48 63.49 87.83 63.68 88.19 63.86 88.54 64.05 88.90 64.23 89.25 64.42 89.60 64.61 89.95 64.80 90.30 64.99 90.65 65.18 91.00 65.37 91.35 65.57 91.70 65.76 92.05 65.96 92.40 66.16 92.74 66.36 93.09 66.56 93.44 66.76 93.78 66.96 94.12 67.16 94.47 67.37 94.81 67.57 95.15 67.78 95.49 67.99 95.83 68.20 96.17 68.41 96.51 68.63 96.84 68.84 97.18 69.06 97.52 69.27 97.85 69.49 98.18 69.71 98.52 69.93 98.85 70.16 99.18 70.38 99.51 70.61 99.84 70.84 100.16 71.06 100.49 71.29 100.82 71.53 101.14 71.76 101.46 72.00 101.79 72.23 102.11 72.47 102.43 72.71 102.74 72.95 103.06 73.19 103.38 73.44 103.69 73.69 104.00 73.93 104.32 74.18 104.63 74.43 104.94 74.69 105.24 74.94 105.55 75.20 105.86 75.46 106.16 75.72 106.46 75.98 106.76 76.24 107.06 76.51 107.36 76.77 107.65 77.04 107.95 77.31 108.24 77.59 108.53 77.86 108.82 78.14 109.11 78.41 109.39 78.69 109.68 78.97 109.96 79.26 110.24 79.54 110.52 79.83 110.79 80.12 111.07 80.41 111.34 80.70 111.61 80.99 111.88 81.29 112.15 81.59 112.41 81.89 112.67 82.19 112.93 82.49 113.19 82.80 113.45 83.10 113.70 83.41 113.95 83.72 114.20 84.03 114.45 84.35 114.70 84.66 114.94 84.98 115.18 85.30 115.42 85.62 115.65 85.94 115.89 86.27 116.12 86.59 116.35 86.92 116.57 87.25 116.80 87.58 117.02 87.91 117.24 88.25 117.46 88.58 117.67 88.92 117.88 89.26 118.09 89.60 118.30 89.94 118.50 90.28 118.71 90.63 118.91 90.97 119.10 91.32 119.30 91.67 119.49 92.02 119.68 92.37 119.87 92.73 120.05 93.08 120.23 93.44 120.41 93.79 120.59 94.15 120.77 94.51 120.94 94.87 121.11 95.23 121.28 95.60 121.44 95.96 121.60 96.32 121.76 96.69 121.92 97.06 122.08 97.43 122.23 97.79 122.38 98.16 122.53 98.54 122.68 98.91 122.82 99.28 122.96 99.65 123.10 100.03 123.24 100.40 123.37 100.78 123.51 101.16 123.64 101.53 123.77 101.91 123.89 102.29 124.02 102.67 124.14 103.05 124.26 103.43 124.38 103.81 124.49 104.20 124.61 104.58 124.72 104.96 124.83 105.35 124.94 105.73 125.04 106.12 125.15 106.50 125.25 106.89 125.35 107.28 125.45 107.66 125.55 108.05 125.64 108.44 125.74 108.83 125.83 109.22 125.92 109.61 126.01 109.99 126.10 110.38 126.18 110.77 126.27 111.17 126.35 111.56 126.43 111.95 126.51 112.34 126.59 112.73 126.66 113.12 126.74 113.52 126.81 113.91 126.88 114.30 126.95 114.70 127.02 115.09 127.09 115.48 127.16 115.88 127.22 116.27 127.29 116.66 127.35 117.06 127.41 117.45 127.48 117.85 127.54 118.24 127.59 118.64 127.65 119.03 127.71 119.43 127.76 119.83 127.82 120.22 127.87 120.62 127.92 121.01 127.97 121.41 128.02 121.81 128.07 122.20 128.12 122.60 128.17 123.00 128.21 123.39 128.26 123.79 128.30 124.19 128.35 124.59 128.39 124.98 128.43 125.38 128.47 125.78 128.51 126.18 128.55 126.57 128.59 126.97 128.63 127.37 128.67 127.77 128.70 128.16 128.74 128.56 128.77 128.96 128.81 129.36 128.84 129.76 128.88 130.15 128.91 130.55 128.94 130.95 128.97 131.35 129.00 131.75 129.03 132.15 129.06 132.54 129.09 132.94 129.12 133.34 129.15 133.74 129.17 134.14 129.20 134.54 129.23 134.94 129.25 135.34 129.28 135.73 129.30 136.13 129.32 136.53 129.35 136.93 129.37 137.33 129.39 137.73 129.42 138.13 129.44 138.53 129.46 138.93 129.48 139.33 129.50 139.72 129.52 140.12 129.54 140.52 129.56 140.92 129.58 141.32 129.60 141.72 129.61 142.12 129.63 142.52 129.65 142.92 129.67 143.32 129.68 143.72 129.70 144.12 129.72 144.51 129.73 144.91 129.75 145.31 129.76 145.71 129.78 146.11 129.79 146.51 129.81 146.91 129.82 147.31 129.83 147.71 129.85 148.11 129.86 148.51 129.87 148.91 129.88 149.31 129.90 149.71 129.91 150.11 129.92 150.50 129.93 150.90 129.94 151.30 129.96 151.70 129.97 152.10 129.98 152.50 129.99 152.90 130.00 153.30 130.01 153.70 130.02 154.10 130.03 154.50 130.04 154.90 130.05 155.30 130.06 155.70 130.06 156.10 130.07 156.50 130.08 156.90 130.09 157.30 130.10 157.70 130.11 158.09 130.11 158.49 130.12 158.89 130.13 159.29 130.14 159.69 130.14 160.09 130.15 160.49 130.16 160.89 130.17 161.29 130.17 161.69 130.18 162.09 130.18 162.49 130.19 162.89 130.20 163.29 130.20 163.69 130.21 164.09 130.22 164.49 130.22 164.89 130.23 165.29 130.23 165.69 130.24 166.09 130.24 166.48 130.25 166.88 130.25 167.28 130.26 167.68 130.26 168.08 130.27 168.48 130.27 168.88 130.28 169.28 130.28 169.68 130.29 170.08 130.29 170.48 130.29 170.88 130.30 171.28 130.30 171.68 130.31 172.08 130.31 172.48 130.31 172.88 130.32 173.28 130.32 173.68 130.33 174.08 130.33 174.48 130.33 174.88 130.34 175.28 130.34 175.68 130.34 176.07 130.35 176.47 130.35 176.87 130.35 177.27 130.35 177.67 130.36 178.07 130.36 178.47 130.36 178.87 130.37 179.27 130.37 179.67 130.37 180.07 130.37 180.47 130.38 180.87 130.38 181.27 130.38 181.67 130.38 182.07 130.39 182.47 130.39 182.87 130.39 183.27 130.39 183.67 130.39 184.07 130.40 184.47 130.40 184.87 130.40 185.27 130.40 185.66 130.40 186.06 130.41 186.46 130.41 186.86 130.41 187.26 130.41 187.66 130.41 188.06 130.42 188.46 130.42 188.86 130.42 189.26 130.42 189.66 130.42 190.06 130.42 190.46 130.43 190.86 130.43 191.26 130.43 191.66 130.43 192.06 130.43 192.46 130.43 192.86 130.43 193.26 130.44 193.66 130.44 194.06 130.44 194.46 130.44 194.86 130.44 195.25 130.44 195.65 130.44 196.05 130.44 196.45 130.44 196.85 130.45 197.25 130.45 197.65 130.45 198.05 130.45 198.45 130.45 198.85 130.45 199.25 130.45 199.65 130.45 200.05 130.45 200.45 130.45 200.85 130.46 201.25 130.46 201.65 130.46 202.05 130.46 202.45 130.46 202.85 130.46 203.25 130.46 203.65 130.46 204.05 130.46 204.45 130.46 204.85 130.46 205.24 130.46 205.64 130.47 206.04 130.47 206.44 130.47 206.84 130.47 207.24 130.47 207.64 130.47 208.04 130.47 208.44 130.47 208.84 130.47 209.24 130.47 209.64 130.47 210.04 130.47 210.44 130.47 210.84 130.47 211.24 130.47 211.64 130.47 212.04 130.47 212.44 130.48 212.84 130.48 213.24 130.48 213.64 130.48 214.04 130.48 214.44 130.48 214.83 130.48 215.23 130.48 215.63 130.48 216.03 130.48 216.43 130.48 216.83 130.48 217.23 130.48 217.63 130.48 218.03 130.48 218.43 130.48 218.83 130.48 219.23 130.48 219.63 130.48 220.03 130.48 220.43 130.48 220.83 130.48 221.23 130.48 221.63 130.48 222.03 130.48 222.43 130.49 222.83 130.49 223.23 130.49 223.63 130.49 224.03 130.49 224.43 130.49 224.82 130.49 225.22 130.49 225.62 130.49 226.02 130.49 226.42 130.49 226.82 130.49 227.22 130.49 227.62 130.49 228.02 130.49 228.42 130.49 228.82 130.49 229.22 130.49 229.62 130.49 230.02 130.49 230.42 130.49 230.82 130.49 231.22 130.49 231.62 130.49 232.02 130.49 232.42 130.49 232.82 130.49 233.22 130.49 233.62 130.49 234.02 130.49 234.42 130.49 234.81 130.49 235.21 130.49 235.61 130.49 236.01 130.49 236.41 130.49 236.81 130.49 237.21 130.49 237.61 130.49 238.01 130.49 238.41 130.49 238.81 130.49 239.21 130.49 239.61 130.49 240.01 130.49 240.41 130.49 240.81 130.49 241.21 130.49 241.61 130.49 242.01 130.49 242.41 130.49 242.81 130.49 243.21 130.49 243.61 130.49 244.01 130.49 244.40 130.49 244.80 130.50 245.20 130.50 245.60 130.50 246.00 130.50 246.40 130.50 246.80 130.50 247.20 130.50 247.60 130.50 248.00 130.50 248.40 130.50 248.80 130.50 249.20" stroke="#E00020" stroke-width="0.8"/>
<path d="M121.62 249.20 121.62 248.80 121.62 248.40 121.63 248.00 121.63 247.60 121.63 247.20 121.63 246.80 121.64 246.40 121.64 246.00 121.64 245.60 121.65 245.20 121.65 244.80 121.65 244.40 121.65 244.00 121.66 243.60 121.66 243.20 121.66 242.80 121.67 242.40 121.67 242.00 121.68 241.60 121.68 241.20 121.68 240.80 121.69 240.40 121.69 240.00 121.69 239.60 121.70 239.20 121.70 238.80 121.71 238.40 121.71 238.00 121.71 237.60 121.72 237.20 121.72 236.80 121.73 236.40 121.73 236.00 121.74 235.60 121.74 235.20 121.75 234.80 121.75 234.40 121.76 234.00 121.76 233.60 121.77 233.20 121.77 232.80 121.78 232.40 121.79 232.00 121.79 231.60 121.80 231.20 121.80 230.80 121.81 230.40 121.82 230.00 121.82 229.60 121.83 229.20 121.84 228.80 121.84 228.40 121.85 228.00 121.86 227.60 121.86 227.20 121.87 226.80 121.88 226.40 121.89 226.00 121.89 225.60 121.90 225.20 121.91 224.80 121.92 224.40 121.93 224.00 121.94 223.60 121.95 223.20 121.96 222.80 121.96 222.40 121.97 222.00 121.98 221.60 121.99 221.21 122.00 220.81 122.01 220.41 122.03 220.01 122.04 219.61 122.05 219.21 122.06 218.81 122.07 218.41 122.08 218.01 122.09 217.61 122.11 217.21 122.12 216.81 122.13 216.41 122.14 216.01 122.16 215.61 122.17 215.21 122.18 214.81 122.20 214.41 122.21 214.01 122.23 213.61 122.24 213.21 122.26 212.81 122.27 212.41 122.29 212.01 122.31 211.61 122.32 211.21 122.34 210.81 122.36 210.41 122.37 210.01 122.39 209.61 122.41 209.21 122.43 208.81 122.45 208.41 122.47 208.01 122.49 207.62 122.51 207.22 122.53 206.82 122.55 206.42 122.57 206.02 122.59 205.62 122.61 205.22 122.64 204.82 122.66 204.42 122.69 204.02 122.71 203.62 122.73 203.22 122.76 202.82 122.79 202.42 122.81 202.03 122.84 201.63 122.87 201.23 122.89 200.83 122.92 200.43 122.95 200.03 122.98 199.63 123.01 199.23 123.04 198.83 123.08 198.44 123.11 198.04 123.14 197.64 123.17 197.24 123.21 196.84 123.24 196.44 123.28 196.04 123.32 195.65 123.35 195.25 123.39 194.85 123.43 194.45 123.47 194.05 123.51 193.66 123.55 193.26 123.59 192.86 123.64 192.46 123.68 192.06 123.73 191.67 123.77 191.27 123.82 190.87 123.87 190.48 123.91 190.08 123.96 189.68 124.01 189.28 124.07 188.89 124.12 188.49 124.17 188.10 124.23 187.70 124.28 187.30 124.34 186.91 124.40 186.51 124.46 186.12 124.52 185.72 124.58 185.33 124.64 184.93 124.71 184.54 124.77 184.14 124.84 183.75 124.91 183.35 124.98 182.96 125.05 182.57 125.12 182.17 125.19 181.78 125.27 181.39 125.35 180.99 125.42 180.60 125.50 180.21 125.58 179.82 125.67 179.43 125.75 179.04 125.84 178.64 125.93 178.25 126.02 177.86 126.11 177.48 126.20 177.09 126.29 176.70 126.39 176.31 126.49 175.92 126.59 175.53 126.69 175.15 126.80 174.76 126.90 174.38 127.01 173.99 127.12 173.61 127.23 173.22 127.35 172.84 127.47 172.46 127.58 172.08 127.71 171.69 127.83 171.31 127.95 170.93 128.08 170.55 128.21 170.18 128.34 169.80 128.48 169.42 128.62 169.05 128.75 168.67 128.90 168.30 129.04 167.92 129.19 167.55 129.34 167.18 129.49 166.81 129.64 166.44 129.80 166.07 129.96 165.71 130.12 165.34 130.29 164.98 130.45 164.61 130.62 164.25 130.80 163.89 130.97 163.53 131.15 163.17 131.33 162.82 131.52 162.46 131.70 162.11 131.89 161.76 132.08 161.41 132.28 161.06 132.48 160.71 132.68 160.36 132.88 160.02 133.09 159.68 133.29 159.33 133.51 158.99 133.72 158.66 133.94 158.32 134.16 157.99 134.38 157.65 134.61 157.32 134.83 157.00 135.07 156.67 135.30 156.34 135.54 156.02 135.77 155.70 136.02 155.38 136.26 155.07 136.51 154.75 136.76 154.44 137.01 154.13 137.26 153.82 137.52 153.51 137.78 153.21 138.04 152.91 138.31 152.61 138.58 152.31 138.85 152.02 139.12 151.72 139.39 151.43 139.67 151.14 139.95 150.86 140.23 150.57 140.51 150.29 140.80 150.01 141.09 149.73 141.38 149.46 141.67 149.18 141.96 148.91 142.26 148.65 142.56 148.38 142.86 148.11 143.16 147.85 143.47 147.59 143.77 147.34 144.08 147.08 144.39 146.83 144.70 146.58 145.01 146.33 145.33 146.08 145.65 145.84 145.96 145.59 146.28 145.35 146.60 145.12 146.93 144.88 147.25 144.65 147.58 144.41 147.90 144.18 148.23 143.96 148.56 143.73 148.90 143.51 149.23 143.28 149.56 143.06 149.90 142.85 150.23 142.63 150.57 142.42 150.91 142.20 151.25 141.99 151.59 141.79 151.94 141.58 152.28 141.37 152.62 141.17 152.97 140.97 153.32 140.77 153.66 140.57 154.01 140.38 154.36 140.18 154.71 139.99 155.06 139.80 155.42 139.61 155.77 139.42 156.12 139.24 156.48 139.05 156.84 138.87 157.19 138.69 157.55 138.51 157.91 138.33 158.27 138.16 158.63 137.98 158.99 137.81 159.35 137.64 159.71 137.47 160.07 137.30 160.44 137.13 160.80 136.96 161.16 136.80 161.53 136.63 161.89 136.47 162.26 136.31 162.63 136.15 162.99 135.99 163.36 135.84 163.73 135.68 164.10 135.53 164.47 135.37 164.84 135.22 165.21 135.07 165.58 134.92 165.95 134.77 166.32 134.63 166.70 134.48 167.07 134.34 167.44 134.19 167.82 134.05 168.19 133.91 168.57 133.77 168.94 133.63 169.32 133.49 169.69 133.35 170.07 133.22 170.44 133.08 170.82 132.95 171.20 132.82 171.58 132.68 171.95 132.55 172.33 132.42 172.71 132.29 173.09 132.17 173.47 132.04 173.85 131.91 174.23 131.79 174.61 131.66 174.99 131.54 175.37 131.42 175.75 131.30 176.13 131.18 176.51 131.06 176.90 130.94 177.28 130.82 177.66 130.70 178.04 130.58 178.43 130.47 178.81 130.35 179.19 130.24 179.58 130.13 179.96 130.01 180.34 129.90 180.73 129.79 181.11 129.68 181.50 129.57 181.88 129.46 182.27 129.35 182.65 129.25 183.04 129.14 183.42 129.03 183.81 128.93 184.19 128.82 184.58 128.72 184.97 128.62 185.35 128.51 185.74 128.41 186.13 128.31 186.51 128.21 186.90 128.11 187.29 128.01 187.68 127.91 188.06 127.81 188.45 127.71 188.84 127.62 189.23 127.52 189.62 127.43 190.01 127.33 190.39 127.24 190.78 127.14 191.17 127.05 191.56 126.96 191.95 126.86 192.34 126.77 192.73 126.68 193.12 126.59 193.51 126.50 193.90 126.41 194.29 126.32 194.68 126.23 195.07 126.15 195.46 126.06 195.85 125.97 196.24 125.88 196.63 125.80 197.02 125.71 197.41 125.63 197.80 125.54 198.19 125.46 198.58 125.38 198.98 125.29 199.37 125.21 199.76 125.13 200.15 125.05 200.54 124.97 200.93 124.88 201.33 124.80 201.72 124.72 202.11 124.64 202.50 124.57 202.89 124.49 203.29 124.41 203.68 124.33 204.07 124.25 204.46 124.18 204.86 124.10 205.25 124.02 205.64 123.95 206.03 123.87 206.43 123.80 206.82 123.72 207.21 123.65 207.61 123.58 208.00 123.50 208.39 123.43 208.79 123.36 209.18 123.29 209.57 123.21 209.97 123.14 210.36 123.07 210.75 123.00 211.15 122.93 211.54 122.86 211.93 122.79 212.33 122.72 212.72 122.65 213.12 122.58 213.51 122.52 213.90 122.45 214.30 122.38 214.69 122.31 215.09 122.25 215.48 122.18 215.88 122.11 216.27 122.05 216.67 121.98 217.06 121.92 217.45 121.85 217.85 121.79 218.24 121.72 218.64 121.66 219.03 121.59 219.43 121.53 219.82 121.47 220.22 121.40 220.61 121.34 221.01 121.28 221.40 121.22 221.80 121.16 222.19 121.09 222.59 121.03 222.99 120.97 223.38 120.91 223.78 120.85 224.17 120.79 224.57 120.73 224.96 120.67 225.36 120.61 225.75 120.55 226.15 120.50 226.54 120.44 226.94 120.38 227.34 120.32 227.73 120.26 228.13 120.21 228.52 120.15 228.92 120.09 229.32 120.03 229.71 119.98 230.11 119.92 230.50 119.87 230.90 119.81 231.30 119.76 231.69 119.70 232.09 119.65 232.48 119.59 232.88 119.54 233.28 119.48 233.67 119.43 234.07 119.37 234.47 119.32 234.86 119.27 235.26 119.21 235.66 119.16 236.05 119.11 236.45 119.06 236.84 119.00 237.24 118.95 237.64 118.90 238.03 118.85 238.43 118.80 238.83 118.75 239.22 118.69 239.62 118.64 240.02 118.59 240.41 118.54 240.81 118.49 241.21 118.44 241.61 118.39 242.00 118.34 242.40 118.29 242.80 118.25 243.19 118.20 243.59 118.15 243.99 118.10 244.38 118.05 244.78 118.00 245.18 117.95 245.58 117.91 245.97 117.86 246.37 117.81 246.77 117.76 247.16 117.72 247.56 117.67 247.96 117.62 248.36 117.58 248.75 117.53 249.15 117.48 249.55 117.44 249.94 117.39 250.34 117.35 250.74 117.30 251.14 117.26 251.53 117.21 251.93 117.17 252.33 117.12 252.73 117.08 253.12 117.03 253.52 116.99 253.92 116.94 254.32 116.90 254.71 116.86 255.11 116.81 255.51 116.77 255.91 116.73 256.30 116.68 256.70 116.64 257.10 116.60 257.50 116.55 257.90 116.51 258.29 116.47 258.69 116.43 259.09 116.39 259.49 116.34 259.88 116.30 260.28 116.26 260.68 116.22 261.08 116.18 261.48 116.14 261.87 116.10 262.27 116.05 262.67 116.01 263.07 115.97 263.47 115.93 263.86 115.89 264.26 115.85 264.66 115.81 265.06 115.77 265.45 115.73 265.85 115.69 266.25 115.65 266.65 115.61 267.05 115.58 267.45 115.54 267.84 115.50 268.24 115.46 268.64 115.42 269.04 115.38 269.44 115.34 269.83 115.30 270.23 115.27 270.63 115.23 271.03 115.19 271.43 115.15 271.82 115.12 272.22 115.08 272.62 115.04 273.02 115.00 273.42 114.97 273.82 114.93 274.21 114.89 274.61 114.86 275.01 114.82 275.41 114.78 275.81 114.75 276.21 114.71 276.60 114.67 277.00 114.64 277.40 114.60 277.80 114.57 278.20 114.53 278.60 114.49 278.99 114.46 279.39 114.42 279.79 114.39 280.19 114.35 280.59 114.32 280.99 114.28 281.38 114.25 281.78 114.21 282.18 114.18 282.58 114.15 282.98 114.11 283.38 114.08 283.78 114.04 284.17 114.01 284.57 113.98 284.97 113.94 285.37 113.91 285.77 113.87 286.17 113.84 286.57 113.81 286.96 113.77 287.36 113.74 287.76 113.71 288.16 113.67 288.56 113.64 288.96 113.61 289.36 113.58 289.75 113.54 290.15 113.51 290.55 113.48 290.95 113.45 291.35 113.41 291.75 113.38 292.15 113.35 292.55 113.32 292.94 113.29 293.34 113.26 293.74 113.22 294.14 113.19 294.54 113.16 294.94 113.13 295.34 113.10 295.73 113.07 296.13 113.04 296.53 113.01 296.93 112.97 297.33 112.94 297.73 112.91 298.13 112.88 298.53 112.85 298.93 112.82 299.32 112.79 299.72 112.76 300.12 112.73 300.52 112.70 300.92 112.67 301.32 112.64 301.72 112.61 302.12 112.58 302.51 112.55 302.91 112.52 303.31 112.49 303.71 112.46 304.11 112.43 304.51 112.41 304.91 112.38 305.31 112.35 305.71 112.32 306.10 112.29 306.50 112.26 306.90 112.23 307.30 112.20 307.70 112.18 308.10 112.15 308.50 112.12 308.90 112.09 309.30 112.06 309.70 112.03 310.09 112.01 310.49 111.98 310.89 111.95 311.29 111.92 311.69 111.89 312.09 111.87 312.49 111.84 312.89 111.81 313.29 111.78 313.69 111.76 314.08 111.73 314.48 111.70 314.88 111.68 315.28 111.65 315.68 111.62 316.08 111.59 316.48 111.57 316.88 111.54 317.28 111.51 317.68 111.49 318.08 111.46 318.47 111.43 318.87 111.41 319.27 111.38 319.67 111.36 320.07 111.33" stroke="#3C00C8" stroke-width="2.2" stroke-dasharray="17.2 6.4 1.4 7.7" stroke-dashoffset="6.1"/>
<path d="M130.58 249.20 130.58 248.80 130.58 248.40 130.59 248.00 130.59 247.60 130.59 247.20 130.59 246.80 130.59 246.40 130.59 246.00 130.60 245.60 130.60 245.20 130.60 244.80 130.60 244.40 130.60 244.00 130.61 243.60 130.61 243.20 130.61 242.80 130.61 242.40 130.62 242.00 130.62 241.60 130.62 241.20 130.62 240.80 130.63 240.40 130.63 240.00 130.63 239.60 130.63 239.20 130.64 238.80 130.64 238.40 130.64 238.00 130.65 237.61 130.65 237.21 130.65 236.81 130.65 236.41 130.66 236.01 130.66 235.61 130.66 235.21 130.67 234.81 130.67 234.41 130.67 234.01 130.68 233.61 130.68 233.21 130.69 232.81 130.69 232.41 130.69 232.01 130.70 231.61 130.70 231.21 130.71 230.81 130.71 230.41 130.71 230.01 130.72 229.61 130.72 229.21 130.73 228.81 130.73 228.41 130.74 228.01 130.74 227.61 130.75 227.21 130.75 226.81 130.76 226.41 130.76 226.01 130.77 225.61 130.77 225.21 130.78 224.81 130.78 224.41 130.79 224.01 130.80 223.61 130.80 223.21 130.81 222.81 130.81 222.41 130.82 222.01 130.83 221.61 130.83 221.21 130.84 220.81 130.85 220.41 130.86 220.01 130.86 219.61 130.87 219.21 130.88 218.81 130.89 218.41 130.89 218.01 130.90 217.62 130.91 217.22 130.92 216.82 130.93 216.42 130.94 216.02 130.94 215.62 130.95 215.22 130.96 214.82 130.97 214.42 130.98 214.02 130.99 213.62 131.00 213.22 131.01 212.82 131.02 212.42 131.03 212.02 131.04 211.62 131.06 211.22 131.07 210.82 131.08 210.42 131.09 210.02 131.10 209.62 131.12 209.22 131.13 208.82 131.14 208.42 131.15 208.02 131.17 207.62 131.18 207.22 131.19 206.82 131.21 206.42 131.22 206.02 131.24 205.63 131.25 205.23 131.27 204.83 131.29 204.43 131.30 204.03 131.32 203.63 131.33 203.23 131.35 202.83 131.37 202.43 131.39 202.03 131.41 201.63 131.42 201.23 131.44 200.83 131.46 200.43 131.48 200.03 131.50 199.63 131.52 199.23 131.54 198.83 131.57 198.44 131.59 198.04 131.61 197.64 131.63 197.24 131.66 196.84 131.68 196.44 131.70 196.04 131.73 195.64 131.75 195.24 131.78 194.84 131.81 194.44 131.83 194.05 131.86 193.65 131.89 193.25 131.92 192.85 131.95 192.45 131.98 192.05 132.01 191.65 132.04 191.25 132.07 190.86 132.10 190.46 132.13 190.06 132.17 189.66 132.20 189.26 132.24 188.86 132.27 188.47 132.31 188.07 132.34 187.67 132.38 187.27 132.42 186.87 132.46 186.48 132.50 186.08 132.54 185.68 132.58 185.28 132.63 184.88 132.67 184.49 132.71 184.09 132.76 183.69 132.81 183.30 132.85 182.90 132.90 182.50 132.95 182.10 133.00 181.71 133.05 181.31 133.11 180.91 133.16 180.52 133.21 180.12 133.27 179.73 133.33 179.33 133.38 178.94 133.44 178.54 133.50 178.14 133.56 177.75 133.63 177.35 133.69 176.96 133.76 176.57 133.82 176.17 133.89 175.78 133.96 175.38 134.03 174.99 134.10 174.60 134.17 174.20 134.25 173.81 134.33 173.42 134.40 173.03 134.48 172.63 134.56 172.24 134.65 171.85 134.73 171.46 134.82 171.07 134.90 170.68 134.99 170.29 135.08 169.90 135.18 169.51 135.27 169.12 135.37 168.73 135.46 168.35 135.56 167.96 135.67 167.57 135.77 167.19 135.87 166.80 135.98 166.42 136.09 166.03 136.20 165.65 136.32 165.26 136.43 164.88 136.55 164.50 136.67 164.12 136.79 163.74 136.92 163.36 137.05 162.98 137.18 162.60 137.31 162.22 137.44 161.85 137.58 161.47 137.72 161.10 137.86 160.72 138.00 160.35 138.15 159.98 138.29 159.60 138.45 159.23 138.60 158.87 138.76 158.50 138.91 158.13 139.08 157.76 139.24 157.40 139.41 157.04 139.58 156.67 139.75 156.31 139.92 155.95 140.10 155.60 140.28 155.24 140.46 154.88 140.65 154.53 140.84 154.18 141.03 153.82 141.22 153.47 141.42 153.13 141.62 152.78 141.82 152.44 142.02 152.09 142.23 151.75 142.44 151.41 142.66 151.07 142.87 150.74 143.09 150.40 143.31 150.07 143.54 149.74 143.76 149.41 143.99 149.08 144.23 148.76 144.46 148.43 144.70 148.11 144.94 147.79 145.18 147.48 145.43 147.16 145.68 146.85 145.93 146.54 146.18 146.23 146.44 145.92 146.70 145.62 146.96 145.31 147.22 145.01 147.49 144.71 147.76 144.42 148.03 144.12 148.30 143.83 148.58 143.54 148.86 143.26 149.14 142.97 149.42 142.69 149.71 142.41 149.99 142.13 150.28 141.85 150.57 141.58 150.87 141.31 151.16 141.04 151.46 140.77 151.76 140.51 152.06 140.24 152.36 139.98 152.67 139.72 152.98 139.47 153.28 139.21 153.60 138.96 153.91 138.71 154.22 138.47 154.54 138.22 154.85 137.98 155.17 137.74 155.49 137.50 155.82 137.26 156.14 137.02 156.46 136.79 156.79 136.56 157.12 136.33 157.45 136.11 157.78 135.88 158.11 135.66 158.44 135.44 158.78 135.22 159.12 135.00 159.45 134.79 159.79 134.57 160.13 134.36 160.47 134.15 160.81 133.95 161.16 133.74 161.50 133.54 161.85 133.34 162.19 133.14 162.54 132.94 162.89 132.74 163.24 132.55 163.59 132.35 163.94 132.16 164.29 131.97 164.64 131.78 164.99 131.60 165.35 131.41 165.70 131.23 166.06 131.05 166.42 130.87 166.78 130.69 167.13 130.51 167.49 130.33 167.85 130.16 168.21 129.99 168.57 129.82 168.94 129.65 169.30 129.48 169.66 129.31 170.03 129.14 170.39 128.98 170.76 128.82 171.12 128.66 171.49 128.50 171.86 128.34 172.22 128.18 172.59 128.02 172.96 127.87 173.33 127.71 173.70 127.56 174.07 127.41 174.44 127.26 174.81 127.11 175.18 126.96 175.55 126.82 175.93 126.67 176.30 126.53 176.67 126.38 177.05 126.24 177.42 126.10 177.79 125.96 178.17 125.82 178.54 125.69 178.92 125.55 179.30 125.41 179.67 125.28 180.05 125.14 180.43 125.01 180.80 124.88 181.18 124.75 181.56 124.62 181.94 124.49 182.32 124.36 182.70 124.24 183.08 124.11 183.46 123.99 183.84 123.86 184.22 123.74 184.60 123.62 184.98 123.50 185.36 123.37 185.74 123.25 186.12 123.14 186.51 123.02 186.89 122.90 187.27 122.78 187.65 122.67 188.04 122.55 188.42 122.44 188.80 122.33 189.19 122.21 189.57 122.10 189.95 121.99 190.34 121.88 190.72 121.77 191.11 121.66 191.49 121.56 191.88 121.45 192.26 121.34 192.65 121.24 193.03 121.13 193.42 121.03 193.81 120.92 194.19 120.82 194.58 120.72 194.97 120.61 195.35 120.51 195.74 120.41 196.13 120.31 196.51 120.21 196.90 120.11 197.29 120.02 197.68 119.92 198.07 119.82 198.45 119.73 198.84 119.63 199.23 119.54 199.62 119.44 200.01 119.35 200.40 119.25 200.78 119.16 201.17 119.07 201.56 118.98 201.95 118.89 202.34 118.80 202.73 118.71 203.12 118.62 203.51 118.53 203.90 118.44 204.29 118.35 204.68 118.26 205.07 118.18 205.46 118.09 205.85 118.00 206.24 117.92 206.63 117.83 207.02 117.75 207.42 117.66 207.81 117.58 208.20 117.50 208.59 117.42 208.98 117.33 209.37 117.25 209.76 117.17 210.15 117.09 210.55 117.01 210.94 116.93 211.33 116.85 211.72 116.77 212.11 116.69 212.51 116.61 212.90 116.54 213.29 116.46 213.68 116.38 214.07 116.31 214.47 116.23 214.86 116.15 215.25 116.08 215.65 116.00 216.04 115.93 216.43 115.85 216.82 115.78 217.22 115.71 217.61 115.63 218.00 115.56 218.40 115.49 218.79 115.42 219.18 115.35 219.58 115.28 219.97 115.20 220.36 115.13 220.76 115.06 221.15 114.99 221.55 114.92 221.94 114.86 222.33 114.79 222.73 114.72 223.12 114.65 223.51 114.58 223.91 114.52 224.30 114.45 224.70 114.38 225.09 114.32 225.49 114.25 225.88 114.18 226.27 114.12 226.67 114.05 227.06 113.99 227.46 113.92 227.85 113.86 228.25 113.80 228.64 113.73 229.04 113.67 229.43 113.61 229.83 113.54 230.22 113.48 230.62 113.42 231.01 113.36 231.41 113.30 231.80 113.23 232.20 113.17 232.59 113.11 232.99 113.05 233.38 112.99 233.78 112.93 234.17 112.87 234.57 112.81 234.96 112.75 235.36 112.70 235.76 112.64 236.15 112.58 236.55 112.52 236.94 112.46 237.34 112.40 237.73 112.35 238.13 112.29 238.53 112.23 238.92 112.18 239.32 112.12 239.71 112.07 240.11 112.01 240.50 111.95 240.90 111.90 241.30 111.84 241.69 111.79 242.09 111.73 242.48 111.68 242.88 111.63 243.28 111.57 243.67 111.52 244.07 111.46 244.47 111.41 244.86 111.36 245.26 111.31 245.65 111.25 246.05 111.20 246.45 111.15 246.84 111.10 247.24 111.04 247.64 110.99 248.03 110.94 248.43 110.89 248.83 110.84 249.22 110.79 249.62 110.74 250.02 110.69 250.41 110.64 250.81 110.59 251.21 110.54 251.60 110.49 252.00 110.44 252.40 110.39 252.79 110.34 253.19 110.29 253.59 110.24 253.98 110.20 254.38 110.15 254.78 110.10 255.18 110.05 255.57 110.00 255.97 109.96 256.37 109.91 256.76 109.86 257.16 109.82 257.56 109.77 257.95 109.72 258.35 109.68 258.75 109.63 259.15 109.58 259.54 109.54 259.94 109.49 260.34 109.45 260.74 109.40 261.13 109.36 261.53 109.31 261.93 109.27 262.32 109.22 262.72 109.18 263.12 109.13 263.52 109.09 263.91 109.05 264.31 109.00 264.71 108.96 265.11 108.92 265.50 108.87 265.90 108.83 266.30 108.79 266.70 108.74 267.09 108.70 267.49 108.66 267.89 108.62 268.29 108.57 268.68 108.53 269.08 108.49 269.48 108.45 269.88 108.41 270.28 108.37 270.67 108.32 271.07 108.28 271.47 108.24 271.87 108.20 272.26 108.16 272.66 108.12 273.06 108.08 273.46 108.04 273.85 108.00 274.25 107.96 274.65 107.92 275.05 107.88 275.45 107.84 275.84 107.80 276.24 107.76 276.64 107.72 277.04 107.68 277.44 107.64 277.83 107.60 278.23 107.57 278.63 107.53 279.03 107.49 279.43 107.45 279.82 107.41 280.22 107.37 280.62 107.34 281.02 107.30 281.42 107.26 281.81 107.22 282.21 107.19 282.61 107.15 283.01 107.11 283.41 107.07 283.80 107.04 284.20 107.00 284.60 106.96 285.00 106.93 285.40 106.89 285.80 106.85 286.19 106.82 286.59 106.78 286.99 106.75 287.39 106.71 287.79 106.68 288.18 106.64 288.58 106.60 288.98 106.57 289.38 106.53 289.78 106.50 290.18 106.46 290.57 106.43 290.97 106.39 291.37 106.36 291.77 106.32 292.17 106.29 292.57 106.26 292.96 106.22 293.36 106.19 293.76 106.15 294.16 106.12 294.56 106.08 294.96 106.05 295.35 106.02 295.75 105.98 296.15 105.95 296.55 105.92 296.95 105.88 297.35 105.85 297.75 105.82 298.14 105.78 298.54 105.75 298.94 105.72 299.34 105.69 299.74 105.65 300.14 105.62 300.53 105.59 300.93 105.56 301.33 105.53 301.73 105.49 302.13 105.46 302.53 105.43 302.93 105.40 303.32 105.37 303.72 105.33 304.12 105.30 304.52 105.27 304.92 105.24 305.32 105.21 305.72 105.18 306.11 105.15 306.51 105.12 306.91 105.09 307.31 105.05 307.71 105.02 308.11 104.99 308.51 104.96 308.91 104.93 309.30 104.90 309.70 104.87 310.10 104.84 310.50 104.81 310.90 104.78 311.30 104.75 311.70 104.72 312.10 104.69 312.49 104.66 312.89 104.63 313.29 104.60 313.69 104.58 314.09 104.55 314.49 104.52 314.89 104.49 315.29 104.46 315.68 104.43 316.08 104.40 316.48 104.37 316.88 104.34 317.28 104.31 317.68 104.29 318.08 104.26 318.48 104.23 318.87 104.20 319.27 104.17 319.67 104.14 320.07 104.12" stroke="#3C00C8" stroke-width="0.8" stroke-dasharray="17 7.25 1 7.25" stroke-dashoffset="5.6"/>
<line x1="68.6" y1="20.0" x2="68.6" y2="246.4" stroke="#000" stroke-width="1.5"/>
<line x1="47.3" y1="101.4" x2="319.7" y2="101.4" stroke="#C4003E" stroke-width="1.6"/>
</g>
<g fill="none" stroke="#000" stroke-width="1.5"><path d="M67.5 94.3 L46.4 94.3"/><path d="M50.2 90.9 Q48.2 93.3 46 94.3 Q48.2 95.3 50.2 97.7" stroke-linejoin="miter"/></g>
<rect x="42.2" y="20.0" width="282.4" height="226.4" fill="none" stroke="#000" stroke-width="1.3"/>
<path d="M47.60 20.0 v2.5 M58.04 20.0 v2.5 M68.49 20.0 v2.5 M78.93 20.0 v2.5 M89.37 20.0 v2.5 M99.82 20.0 v2.5 M110.26 20.0 v2.5 M120.70 20.0 v2.5 M131.15 20.0 v2.5 M141.59 20.0 v2.5 M152.03 20.0 v2.5 M162.48 20.0 v2.5 M172.92 20.0 v2.5 M183.37 20.0 v2.5 M193.81 20.0 v2.5 M204.25 20.0 v2.5 M214.70 20.0 v2.5 M225.14 20.0 v2.5 M235.58 20.0 v2.5 M246.03 20.0 v2.5 M256.47 20.0 v2.5 M266.91 20.0 v2.5 M277.36 20.0 v2.5 M287.80 20.0 v2.5 M298.24 20.0 v2.5 M308.69 20.0 v2.5 M319.13 20.0 v2.5 M47.60 246.4 v-3 M152.03 246.4 v-3 M256.47 246.4 v-3 M42.2 65.34 h2.6 M324.6 65.34 h-2.6 M42.2 110.65 h2.6 M324.6 110.65 h-2.6 M42.2 155.96 h2.6 M324.6 155.96 h-2.6 M42.2 201.27 h2.6 M324.6 201.27 h-2.6" stroke="#000" stroke-width="1" fill="none"/>
<g font-family="'Liberation Serif', serif" font-weight="bold" fill="#000" stroke="#000" stroke-width="0.25">
<text x="129.6" y="10.3" font-size="13">Argonne Potential</text>
<text x="40" y="23.5" font-size="10" text-anchor="end">10</text>
<text x="40" y="68.9" font-size="10" text-anchor="end">1</text>
<text y="115.2" font-size="10"><tspan x="20.1">10</tspan><tspan x="30.4" dy="-4" font-size="8.6">−</tspan><tspan x="35.6" font-size="6.9">1</tspan></text>
<text y="160.5" font-size="10"><tspan x="20.1">10</tspan><tspan x="30.4" dy="-4" font-size="8.6">−</tspan><tspan x="35.6" font-size="6.9">2</tspan></text>
<text y="205.8" font-size="10"><tspan x="20.1">10</tspan><tspan x="30.4" dy="-4" font-size="8.6">−</tspan><tspan x="35.6" font-size="6.9">3</tspan></text>
<text y="251.1" font-size="10"><tspan x="20.1">10</tspan><tspan x="30.4" dy="-4" font-size="8.6">−</tspan><tspan x="35.6" font-size="6.9">4</tspan></text>
<text y="259.2" font-size="10"><tspan x="27.1">1.5</tspan><tspan x="41.3" font-size="11" dy="0.4">×</tspan><tspan x="50.4" dy="-0.4">10</tspan><tspan x="60.9" font-size="7.3" dy="-4.6">2</tspan><tspan x="65.3" font-size="7.3">5</tspan></text>
<text y="259.2" font-size="10"><tspan x="133">2.</tspan><tspan x="143.3" font-size="11" dy="0.4">×</tspan><tspan x="152.4" dy="-0.4">10</tspan><tspan x="162.9" font-size="7.3" dy="-4.6">2</tspan><tspan x="167.3" font-size="7.3">5</tspan></text>
<text y="259.2" font-size="10"><tspan x="235.6">2.5</tspan><tspan x="249.8" font-size="11" dy="0.4">×</tspan><tspan x="258.9" dy="-0.4">10</tspan><tspan x="269.4" font-size="7.3" dy="-4.6">2</tspan><tspan x="273.8" font-size="7.3">5</tspan></text>
<text y="277.7" font-size="11"><tspan x="148.9" font-style="italic" font-size="11.4">T</tspan><tspan x="156.2" font-size="8" dy="2">1</tspan><tspan x="159.8" font-size="8">/</tspan><tspan x="162.3" font-size="8">2</tspan><tspan x="166.3" dy="-2">(</tspan><tspan x="171" font-size="7.4" dy="-4.1" letter-spacing="0.2">136</tspan><tspan x="181.8" dy="4.1">Xe)</tspan><tspan x="202.2">[y]</tspan></text>
<text y="33.3" font-size="10.4"><tspan x="211.9" font-style="italic" font-size="11.4">T</tspan><tspan x="219.4" font-size="8" dy="2">1</tspan><tspan x="222.9" font-size="8">/</tspan><tspan x="225.3" font-size="8">2</tspan><tspan x="229" dy="-2">(</tspan><tspan x="233.2" font-size="7" dy="-3.8">76</tspan><tspan x="240.6" dy="3.8" font-size="10.4">Ge</tspan><tspan x="253.8" font-size="10.4">)</tspan><tspan x="257.7" font-size="11">=</tspan><tspan x="265" font-size="10.4">5</tspan><tspan x="274.8">10</tspan><tspan font-size="7.2" dy="-4.1">25</tspan><tspan x="296.3" dy="4.1">y</tspan></text>
<text x="279" y="96.8" font-size="8.9" fill="#C4003E" stroke="#C4003E">KATRIN</text>
<text transform="translate(65.3 84.2) rotate(-90)" font-size="8.75">EXO excl. limit</text>
<g transform="translate(11.8 209.5) rotate(-90)"><text font-size="10"><tspan x="2.0" y="0" font-style="italic" font-size="11.6">η</tspan><tspan x="8.2" y="2.2" font-size="7.2" font-style="italic">ν</tspan><tspan x="14.3" y="-6.1" font-size="7">2</tspan><tspan x="20.6" y="0.2" font-size="10.5">×</tspan><tspan x="27.7" y="0" font-size="10">10</tspan><tspan x="38.3" y="-4.2" font-size="7.3">12</tspan><tspan x="46" y="0">,</tspan><tspan x="52.1" y="0" font-style="italic" font-size="11.6">η</tspan><tspan x="58.7" y="2.2" font-size="7.2" font-style="italic">λ′</tspan><tspan x="68.3" y="-6.1" font-size="7">2</tspan><tspan x="72.3" y="0.2" font-size="10.5">×</tspan><tspan x="80.8" y="0" font-size="10">10</tspan><tspan x="90.7" y="-4.2" font-size="7.3">16</tspan><tspan x="98.8" y="0">,</tspan><tspan x="104.4" y="0" font-style="italic" font-size="11.6">η</tspan><tspan x="111.3" y="2.2" font-size="7.2" font-style="italic">R</tspan><tspan x="120.6" y="-6.1" font-size="7">2</tspan><tspan x="124.6" y="0.2" font-size="10.5">×</tspan><tspan x="133.0" y="0" font-size="10">10</tspan><tspan x="143" y="-4.2" font-size="7.3">16</tspan></text>
<rect x="0.6" y="-8.8" width="1.1" height="11" stroke="none"/>
<rect x="13.0" y="-8.8" width="1.1" height="11" stroke="none"/>
<rect x="51.1" y="-8.8" width="1.1" height="11" stroke="none"/>
<rect x="67.0" y="-8.8" width="1.1" height="11" stroke="none"/>
<rect x="103.1" y="-8.8" width="1.1" height="11" stroke="none"/>
<rect x="118.8" y="-8.8" width="1.1" height="11" stroke="none"/>
</g>
</g>
</svg>
</body></html>
